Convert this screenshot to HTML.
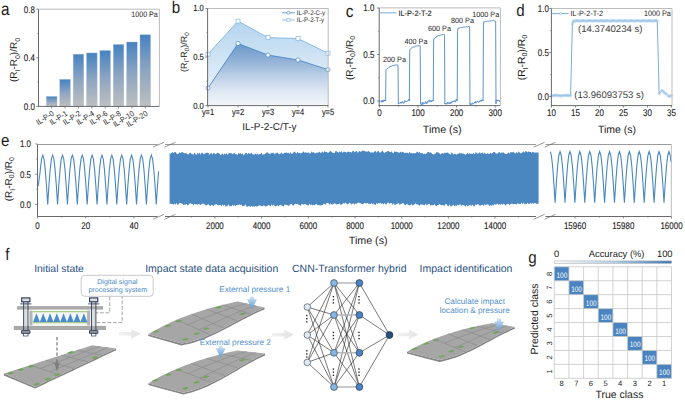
<!DOCTYPE html>
<html><head><meta charset="utf-8"><style>
html,body{margin:0;padding:0;background:#fff;}
body{width:685px;height:400px;overflow:hidden;}
svg{display:block;}
text{font-family:"Liberation Sans",sans-serif;text-rendering:geometricPrecision;}
</style></head><body>
<svg width="685" height="400" viewBox="0 0 685 400">
<rect width="685" height="400" fill="#fff"/>
<defs><linearGradient id="ga" x1="0" y1="0" x2="0" y2="1"><stop offset="0" stop-color="#4682c2"/><stop offset="0.5" stop-color="#8ea5c1"/><stop offset="1" stop-color="#bfbfc0"/></linearGradient></defs>
<rect x="46.4" y="96.44" width="10.6" height="9.96" fill="url(#ga)" stroke="#a6c0dc" stroke-width="0.4"/>
<line x1="51.7" y1="106.4" x2="51.7" y2="108.4" stroke="#6a6a6a" stroke-width="0.8" />
<text transform="translate(54.7,115) rotate(-32) scale(0.9,1)" font-size="7.9" text-anchor="end" fill="#1c1c1c">IL-P-0</text>
<rect x="59.77" y="79.31" width="10.6" height="27.09" fill="url(#ga)" stroke="#a6c0dc" stroke-width="0.4"/>
<line x1="65.07" y1="106.4" x2="65.07" y2="108.4" stroke="#6a6a6a" stroke-width="0.8" />
<text transform="translate(68.07,115) rotate(-32) scale(0.9,1)" font-size="7.9" text-anchor="end" fill="#1c1c1c">IL-P-1</text>
<rect x="73.14" y="54.16" width="10.6" height="52.24" fill="url(#ga)" stroke="#a6c0dc" stroke-width="0.4"/>
<line x1="78.44" y1="106.4" x2="78.44" y2="108.4" stroke="#6a6a6a" stroke-width="0.8" />
<text transform="translate(81.44,115) rotate(-32) scale(0.9,1)" font-size="7.9" text-anchor="end" fill="#1c1c1c">IL-P-2</text>
<rect x="86.51" y="52.94" width="10.6" height="53.46" fill="url(#ga)" stroke="#a6c0dc" stroke-width="0.4"/>
<line x1="91.81" y1="106.4" x2="91.81" y2="108.4" stroke="#6a6a6a" stroke-width="0.8" />
<text transform="translate(94.81,115) rotate(-32) scale(0.9,1)" font-size="7.9" text-anchor="end" fill="#1c1c1c">IL-P-4</text>
<rect x="99.88" y="50.51" width="10.6" height="55.89" fill="url(#ga)" stroke="#a6c0dc" stroke-width="0.4"/>
<line x1="105.18" y1="106.4" x2="105.18" y2="108.4" stroke="#6a6a6a" stroke-width="0.8" />
<text transform="translate(108.18,115) rotate(-32) scale(0.9,1)" font-size="7.9" text-anchor="end" fill="#1c1c1c">IL-P-6</text>
<rect x="113.25" y="44.44" width="10.6" height="61.97" fill="url(#ga)" stroke="#a6c0dc" stroke-width="0.4"/>
<line x1="118.55" y1="106.4" x2="118.55" y2="108.4" stroke="#6a6a6a" stroke-width="0.8" />
<text transform="translate(121.55,115) rotate(-32) scale(0.9,1)" font-size="7.9" text-anchor="end" fill="#1c1c1c">IL-P-8</text>
<rect x="126.62" y="42.01" width="10.6" height="64.39" fill="url(#ga)" stroke="#a6c0dc" stroke-width="0.4"/>
<line x1="131.92" y1="106.4" x2="131.92" y2="108.4" stroke="#6a6a6a" stroke-width="0.8" />
<text transform="translate(134.92,115) rotate(-32) scale(0.9,1)" font-size="7.9" text-anchor="end" fill="#1c1c1c">IL-P-10</text>
<rect x="139.99" y="34.72" width="10.6" height="71.68" fill="url(#ga)" stroke="#a6c0dc" stroke-width="0.4"/>
<line x1="145.29" y1="106.4" x2="145.29" y2="108.4" stroke="#6a6a6a" stroke-width="0.8" />
<text transform="translate(148.29,115) rotate(-32) scale(0.9,1)" font-size="7.9" text-anchor="end" fill="#1c1c1c">IL-P-20</text>
<line x1="38.5" y1="9.2" x2="159.4" y2="9.2" stroke="#bcbcbc" stroke-width="1" />
<line x1="159.4" y1="9.2" x2="159.4" y2="106.4" stroke="#bcbcbc" stroke-width="1" />
<line x1="38.5" y1="9.2" x2="38.5" y2="106.9" stroke="#6a6a6a" stroke-width="1" />
<line x1="38" y1="106.4" x2="159.4" y2="106.4" stroke="#6a6a6a" stroke-width="1" />
<line x1="36.3" y1="106.4" x2="38.5" y2="106.4" stroke="#6a6a6a" stroke-width="0.8" />
<text transform="translate(34.9,109.8) scale(0.82,1)" font-size="9.7" text-anchor="end" fill="#1c1c1c" stroke="#1c1c1c" stroke-width="0.12">0.0</text>
<line x1="36.3" y1="57.8" x2="38.5" y2="57.8" stroke="#6a6a6a" stroke-width="0.8" />
<text transform="translate(34.9,61.2) scale(0.82,1)" font-size="9.7" text-anchor="end" fill="#1c1c1c" stroke="#1c1c1c" stroke-width="0.12">0.4</text>
<line x1="36.3" y1="9.2" x2="38.5" y2="9.2" stroke="#6a6a6a" stroke-width="0.8" />
<text transform="translate(34.9,12.6) scale(0.82,1)" font-size="9.7" text-anchor="end" fill="#1c1c1c" stroke="#1c1c1c" stroke-width="0.12">0.8</text>
<line x1="37.2" y1="82.1" x2="38.5" y2="82.1" stroke="#6a6a6a" stroke-width="0.6" />
<line x1="37.2" y1="33.5" x2="38.5" y2="33.5" stroke="#6a6a6a" stroke-width="0.6" />
<text transform="translate(157.8,16.8) scale(0.9,1)" font-size="7.9" text-anchor="end" fill="#1c1c1c" >1000 Pa</text>
<text transform="translate(17.3,60) rotate(-90) scale(1.0,1)" font-size="10" text-anchor="middle" fill="#1c1c1c">(R<tspan font-size="7" dy="3">I</tspan><tspan dy="-3">-R</tspan><tspan font-size="7" dy="2.2">0</tspan><tspan dy="-2.2">)/R</tspan><tspan font-size="7" dy="2.2">0</tspan></text>
<text transform="translate(0.9,15) scale(0.87,1)" font-size="17.6" text-anchor="start" fill="#1c1c1c" >a</text>
<defs><linearGradient id="gbT" x1="0" y1="0" x2="0" y2="1"><stop offset="0" stop-color="#b4d4ee"/><stop offset="1" stop-color="#f4f8fc"/></linearGradient><linearGradient id="gbC" gradientUnits="userSpaceOnUse" x1="0" y1="43" x2="0" y2="105.6"><stop offset="0" stop-color="#6797ca"/><stop offset="0.27" stop-color="#8fb0d6"/><stop offset="0.5" stop-color="#b7cce5"/><stop offset="0.75" stop-color="#dce6f2"/><stop offset="1" stop-color="#f3f6fa"/></linearGradient></defs>
<polygon points="207.6,105.6 208,54.14 238,21.12 268,37.63 298,38.6 328,53.17 328.2,105.6" fill="url(#gbT)"/>
<polygon points="207.6,105.6 208,88.12 238,43.46 268,55.11 298,59.96 328,69.67 328.2,105.6" fill="url(#gbC)"/>
<polyline points="208,54.14 238,21.12 268,37.63 298,38.6 328,53.17" fill="none" stroke="#7fb6e2" stroke-width="0.9"/>
<polyline points="208,88.12 238,43.46 268,55.11 298,59.96 328,69.67" fill="none" stroke="#4a88c8" stroke-width="0.9"/>
<rect x="206" y="52.14" width="4" height="4" fill="#fff" stroke="#7fb6e2" stroke-width="0.7"/>
<circle cx="208" cy="88.12" r="2.1" fill="#fff" stroke="#4a88c8" stroke-width="0.7"/>
<rect x="236" y="19.12" width="4" height="4" fill="#fff" stroke="#7fb6e2" stroke-width="0.7"/>
<circle cx="238" cy="43.46" r="2.1" fill="#fff" stroke="#4a88c8" stroke-width="0.7"/>
<rect x="266" y="35.63" width="4" height="4" fill="#fff" stroke="#7fb6e2" stroke-width="0.7"/>
<circle cx="268" cy="55.11" r="2.1" fill="#fff" stroke="#4a88c8" stroke-width="0.7"/>
<rect x="296" y="36.6" width="4" height="4" fill="#fff" stroke="#7fb6e2" stroke-width="0.7"/>
<circle cx="298" cy="59.96" r="2.1" fill="#fff" stroke="#4a88c8" stroke-width="0.7"/>
<rect x="326" y="51.17" width="4" height="4" fill="#fff" stroke="#7fb6e2" stroke-width="0.7"/>
<circle cx="328" cy="69.67" r="2.1" fill="#fff" stroke="#4a88c8" stroke-width="0.7"/>
<line x1="207.6" y1="8.5" x2="328.2" y2="8.5" stroke="#bcbcbc" stroke-width="1" />
<line x1="328.2" y1="8.5" x2="328.2" y2="105.6" stroke="#bcbcbc" stroke-width="1" />
<line x1="207.6" y1="8.5" x2="207.6" y2="106.1" stroke="#6a6a6a" stroke-width="1" />
<line x1="207.1" y1="105.6" x2="328.2" y2="105.6" stroke="#6a6a6a" stroke-width="1" />
<line x1="205.4" y1="105.6" x2="207.6" y2="105.6" stroke="#6a6a6a" stroke-width="0.8" />
<text transform="translate(203.8,108.5) scale(0.85,1)" font-size="9.0" text-anchor="end" fill="#1c1c1c" stroke="#1c1c1c" stroke-width="0.12">0.0</text>
<line x1="205.4" y1="57.05" x2="207.6" y2="57.05" stroke="#6a6a6a" stroke-width="0.8" />
<text transform="translate(203.8,59.95) scale(0.85,1)" font-size="9.0" text-anchor="end" fill="#1c1c1c" stroke="#1c1c1c" stroke-width="0.12">0.5</text>
<line x1="205.4" y1="8.5" x2="207.6" y2="8.5" stroke="#6a6a6a" stroke-width="0.8" />
<text transform="translate(203.8,11.4) scale(0.85,1)" font-size="9.0" text-anchor="end" fill="#1c1c1c" stroke="#1c1c1c" stroke-width="0.12">1.0</text>
<line x1="206.3" y1="81.32" x2="207.6" y2="81.32" stroke="#6a6a6a" stroke-width="0.6" />
<line x1="206.3" y1="32.78" x2="207.6" y2="32.78" stroke="#6a6a6a" stroke-width="0.6" />
<line x1="208" y1="105.6" x2="208" y2="107.6" stroke="#6a6a6a" stroke-width="0.8" />
<text transform="translate(208,115.4) scale(0.83,1)" font-size="9.0" text-anchor="middle" fill="#1c1c1c" stroke="#1c1c1c" stroke-width="0.12">y=1</text>
<line x1="238" y1="105.6" x2="238" y2="107.6" stroke="#6a6a6a" stroke-width="0.8" />
<text transform="translate(238,115.4) scale(0.83,1)" font-size="9.0" text-anchor="middle" fill="#1c1c1c" stroke="#1c1c1c" stroke-width="0.12">y=2</text>
<line x1="268" y1="105.6" x2="268" y2="107.6" stroke="#6a6a6a" stroke-width="0.8" />
<text transform="translate(268,115.4) scale(0.83,1)" font-size="9.0" text-anchor="middle" fill="#1c1c1c" stroke="#1c1c1c" stroke-width="0.12">y=3</text>
<line x1="298" y1="105.6" x2="298" y2="107.6" stroke="#6a6a6a" stroke-width="0.8" />
<text transform="translate(298,115.4) scale(0.83,1)" font-size="9.0" text-anchor="middle" fill="#1c1c1c" stroke="#1c1c1c" stroke-width="0.12">y=4</text>
<line x1="328" y1="105.6" x2="328" y2="107.6" stroke="#6a6a6a" stroke-width="0.8" />
<text transform="translate(328,115.4) scale(0.83,1)" font-size="9.0" text-anchor="middle" fill="#1c1c1c" stroke="#1c1c1c" stroke-width="0.12">y=5</text>
<text x="269.4" y="130" font-size="10" text-anchor="middle" fill="#1c1c1c" >IL-P-2-C/T-y</text>
<line x1="282" y1="12.8" x2="295" y2="12.8" stroke="#4a88c8" stroke-width="0.8" />
<circle cx="288.5" cy="12.8" r="1.6" fill="#fff" stroke="#4a88c8" stroke-width="0.6"/>
<text transform="translate(296.8,14.9) scale(0.92,1)" font-size="6.7" text-anchor="start" fill="#1c1c1c" >IL-P-2-C-y</text>
<line x1="282" y1="20" x2="295" y2="20" stroke="#7fb6e2" stroke-width="0.8" />
<rect x="287" y="18.5" width="3" height="3" fill="#fff" stroke="#7fb6e2" stroke-width="0.6"/>
<text transform="translate(296.8,22.1) scale(0.92,1)" font-size="6.7" text-anchor="start" fill="#1c1c1c" >IL-P-2-T-y</text>
<text transform="translate(186.6,52) rotate(-90) scale(1.0,1)" font-size="9" text-anchor="middle" fill="#1c1c1c">(R<tspan font-size="6.3" dy="2.7">I</tspan><tspan dy="-2.7">-R</tspan><tspan font-size="6.3" dy="1.98">0</tspan><tspan dy="-1.98">)/R</tspan><tspan font-size="6.3" dy="1.98">0</tspan></text>
<text transform="translate(171.8,12.9) scale(0.9,1)" font-size="16.8" text-anchor="start" fill="#1c1c1c" >b</text>
<polyline points="379.4,101.68 379.86,100.88 380.33,101.34 380.79,100.73 381.25,100.67 381.72,102.13 382.18,102.27 382.64,100.12 383.11,101.63 383.57,101.69 384.03,99.71 384.5,101.08 384.96,100.12 385.61,101 385.96,70.64 386.31,69.38 386.31,69.4 387.26,68.45 388.21,68.12 389.17,67.16 390.12,66.49 391.07,66.32 392.02,65.8 392.97,65.55 393.93,65.74 394.88,65.01 395.83,64.95 396.78,65.01 397.73,65.08 398.01,65.27 398.35,103.79 398.35,103.3 398.82,104.15 399.28,103.34 399.74,102.75 400.21,103 400.67,102.29 401.13,103.49 401.59,102.26 402.06,103.01 402.52,101.56 402.98,101.53 403.45,103.39 403.91,103.12 404.37,102.73 404.84,100.61 405.3,101.81 405.76,101.14 406.23,101.82 406.69,101.11 407.15,101.25 407.62,101.17 408.08,100.38 408.54,100.21 409.01,99.21 409.35,101 409.7,51.45 410.05,49.38 410.05,49.25 410.87,48.41 411.7,47.9 412.52,47.33 413.34,47.16 414.17,47.2 414.99,46.4 415.81,46.08 416.64,45.92 417.46,45.99 418.28,45.74 419.11,45.99 419.93,45.42 420.2,46.5 420.55,103.79 420.55,104.06 421.01,104.66 421.47,105.09 421.94,102.88 422.4,102.38 422.86,104.57 423.33,102.57 423.79,103.44 424.25,103.96 424.72,103.44 425.18,102.05 425.64,101.63 426.11,103.64 426.57,102 427.03,103.33 427.5,101.43 427.96,102.29 428.42,100.71 428.89,100.3 429.35,101.38 429.81,99.95 430.27,101.59 430.74,102.05 431.2,100.54 431.66,101.87 432.13,101.28 432.59,100.59 433.05,99.91 433.29,101 433.63,41.18 433.98,38.69 433.98,38.95 434.84,38.29 435.69,37.04 436.55,36.92 437.4,35.99 438.26,35.66 439.11,35.72 439.97,35.39 440.83,35.11 441.68,34.82 442.54,34.69 443.39,34.58 444.25,34.42 444.52,35.5 444.87,103.79 444.87,103.11 445.33,104.08 445.79,104.12 446.26,103.22 446.72,104.32 447.18,104 447.64,102.08 448.11,103.11 448.57,102.89 449.03,104.13 449.5,102.93 449.96,102.34 450.42,103.64 450.89,101.94 451.35,101.74 451.81,103.08 452.28,101.44 452.74,101.71 453.2,101 453.67,101.69 454.13,100.62 454.59,100.38 455.06,102.09 455.52,101.83 455.98,100.08 456.45,99.17 456.91,100.87 457.22,101 457.56,31.36 457.91,28.46 457.91,28.49 458.86,28.06 459.82,27.98 460.77,27.71 461.72,27.55 462.67,27.34 463.63,27.03 464.58,27.13 465.53,26.97 466.48,26.59 467.43,27.07 468.39,26.6 469.34,26.43 469.61,27.72 469.96,103.79 469.96,104.75 470.42,104.83 470.88,103.17 471.35,104.5 471.81,104.49 472.27,103.69 472.73,102.86 473.2,104.27 473.66,103.55 474.12,103.37 474.59,101.93 475.05,102.81 475.51,101.58 475.98,103.22 476.44,102.64 476.9,101.67 477.37,100.92 477.83,101.9 478.29,102.34 478.76,102.47 479.22,101.26 479.68,101.99 480.15,100.24 480.61,100.02 481.07,101.58 481.54,101.18 482,99.66 482.46,99.94 483.08,101 483.43,25.11 483.77,21.95 483.77,21.72 484.74,21.82 485.71,21.77 486.68,21.47 487.65,20.95 488.62,21.21 489.58,21.04 490.55,20.9 491.52,20.82 492.49,20.76 493.46,20.33 494.42,20.85 495.39,20.92 495.66,21.76 496.01,103.79 496.01,100.01 496.59,100.15 497.17,99.91 497.75,101.15 498.33,100 498.91,100.05 499.48,101.62 500.06,100.45" fill="none" stroke="#4a88c8" stroke-width="0.9" stroke-linejoin="round"/>
<line x1="379.2" y1="7.9" x2="500.4" y2="7.9" stroke="#bcbcbc" stroke-width="1" />
<line x1="500.4" y1="7.9" x2="500.4" y2="105.6" stroke="#bcbcbc" stroke-width="1" />
<line x1="379.2" y1="7.9" x2="379.2" y2="106.1" stroke="#6a6a6a" stroke-width="1" />
<line x1="378.7" y1="105.6" x2="500.4" y2="105.6" stroke="#6a6a6a" stroke-width="1" />
<line x1="377" y1="101" x2="379.2" y2="101" stroke="#6a6a6a" stroke-width="0.8" />
<text transform="translate(374.4,104.4) scale(0.82,1)" font-size="9.7" text-anchor="end" fill="#1c1c1c" stroke="#1c1c1c" stroke-width="0.12">0.0</text>
<line x1="377" y1="54.5" x2="379.2" y2="54.5" stroke="#6a6a6a" stroke-width="0.8" />
<text transform="translate(374.4,57.9) scale(0.82,1)" font-size="9.7" text-anchor="end" fill="#1c1c1c" stroke="#1c1c1c" stroke-width="0.12">0.5</text>
<line x1="377" y1="8" x2="379.2" y2="8" stroke="#6a6a6a" stroke-width="0.8" />
<text transform="translate(374.4,11.4) scale(0.82,1)" font-size="9.7" text-anchor="end" fill="#1c1c1c" stroke="#1c1c1c" stroke-width="0.12">1.0</text>
<line x1="377.9" y1="77.75" x2="379.2" y2="77.75" stroke="#6a6a6a" stroke-width="0.6" />
<line x1="377.9" y1="31.25" x2="379.2" y2="31.25" stroke="#6a6a6a" stroke-width="0.6" />
<line x1="379.4" y1="105.6" x2="379.4" y2="107.6" stroke="#6a6a6a" stroke-width="0.8" />
<text transform="translate(379.4,115.6) scale(0.82,1)" font-size="9.7" text-anchor="middle" fill="#1c1c1c" stroke="#1c1c1c" stroke-width="0.12">0</text>
<line x1="418" y1="105.6" x2="418" y2="107.6" stroke="#6a6a6a" stroke-width="0.8" />
<text transform="translate(418,115.6) scale(0.82,1)" font-size="9.7" text-anchor="middle" fill="#1c1c1c" stroke="#1c1c1c" stroke-width="0.12">100</text>
<line x1="456.6" y1="105.6" x2="456.6" y2="107.6" stroke="#6a6a6a" stroke-width="0.8" />
<text transform="translate(456.6,115.6) scale(0.82,1)" font-size="9.7" text-anchor="middle" fill="#1c1c1c" stroke="#1c1c1c" stroke-width="0.12">200</text>
<line x1="495.2" y1="105.6" x2="495.2" y2="107.6" stroke="#6a6a6a" stroke-width="0.8" />
<text transform="translate(495.2,115.6) scale(0.82,1)" font-size="9.7" text-anchor="middle" fill="#1c1c1c" stroke="#1c1c1c" stroke-width="0.12">300</text>
<line x1="398.7" y1="105.6" x2="398.7" y2="106.8" stroke="#6a6a6a" stroke-width="0.6" />
<line x1="437.3" y1="105.6" x2="437.3" y2="106.8" stroke="#6a6a6a" stroke-width="0.6" />
<line x1="475.9" y1="105.6" x2="475.9" y2="106.8" stroke="#6a6a6a" stroke-width="0.6" />
<text x="442.2" y="132.5" font-size="10.7" text-anchor="middle" fill="#1c1c1c" >Time (s)</text>
<line x1="380" y1="12.8" x2="396.4" y2="12.8" stroke="#8fbbe3" stroke-width="1.3" />
<text transform="translate(398.4,15.7) scale(0.95,1)" font-size="7.8" text-anchor="start" fill="#1c1c1c" stroke="#1c1c1c" stroke-width="0.12">IL-P-2-T-2</text>
<text transform="translate(394.5,61.9) scale(0.95,1)" font-size="7.6" text-anchor="middle" fill="#1c1c1c" >200 Pa</text>
<text transform="translate(416,43.9) scale(0.95,1)" font-size="7.6" text-anchor="middle" fill="#1c1c1c" >400 Pa</text>
<text transform="translate(439.5,30.9) scale(0.95,1)" font-size="7.6" text-anchor="middle" fill="#1c1c1c" >600 Pa</text>
<text transform="translate(462.5,22.9) scale(0.95,1)" font-size="7.6" text-anchor="middle" fill="#1c1c1c" >800 Pa</text>
<text transform="translate(485.7,16.9) scale(0.95,1)" font-size="7.6" text-anchor="middle" fill="#1c1c1c" >1000 Pa</text>
<text transform="translate(352.8,58) rotate(-90) scale(1.0,1)" font-size="10" text-anchor="middle" fill="#1c1c1c">(R<tspan font-size="7" dy="3">I</tspan><tspan dy="-3">-R</tspan><tspan font-size="7" dy="2.2">0</tspan><tspan dy="-2.2">)/R</tspan><tspan font-size="7" dy="2.2">0</tspan></text>
<text transform="translate(345.8,17) scale(0.9,1)" font-size="17.2" text-anchor="start" fill="#1c1c1c" >c</text>
<polyline points="551.4,95.8 552.6,95.71 553.8,95.52 555,95.35 556.2,95.28 557.4,95.35 558.6,95.53 559.8,95.71 561,95.8 562.2,95.76 563.4,95.6 564.6,95.4 565.8,95.29 567,95.31 568.2,95.45 569.4,95.65 570.6,95.72 572.38,23.48 573.48,20.95 574.68,20.99 575.88,20.82 577.08,20.66 578.28,20.74 579.48,20.95 580.68,21 581.88,20.82 583.08,20.66 584.28,20.74 585.48,20.94 586.68,21 587.88,20.83 589.08,20.66 590.28,20.73 591.48,20.94 592.68,21 593.88,20.83 595.08,20.67 596.28,20.73 597.48,20.94 598.68,21 599.88,20.84 601.08,20.67 602.28,20.72 603.48,20.93 604.68,21 605.88,20.85 607.08,20.67 608.28,20.72 609.48,20.93 610.68,21.01 611.88,20.85 613.08,20.67 614.28,20.72 615.48,20.92 616.68,21.01 617.88,20.86 619.08,20.68 620.28,20.71 621.48,20.92 622.68,21.01 623.88,20.86 625.08,20.68 626.28,20.71 627.48,20.91 628.68,21.01 629.88,20.87 631.08,20.68 632.28,20.7 633.48,20.9 634.68,21.01 635.88,20.87 637.08,20.68 638.28,20.7 639.48,20.9 640.68,21.01 641.88,20.88 643.08,20.69 644.28,20.7 645.48,20.89 646.68,21.01 647.88,20.89 649.08,20.69 650.28,20.69 651.48,20.89 652.68,21.01 653.88,20.89 655.08,20.69 656.28,20.69 657.24,20.83 659.16,93.96 661.8,90.43 663.24,91.31 664.68,93.08 666.12,93.52 667.56,95.28 669,96.6 670.44,95.72 671.4,95.72" fill="none" stroke="#6aa4d6" stroke-width="0.9"/>
<circle cx="551.4" cy="95.8" r="1.25" fill="none" stroke="#a4c8e8" stroke-width="0.55"/>
<circle cx="552.6" cy="95.71" r="1.25" fill="none" stroke="#a4c8e8" stroke-width="0.55"/>
<circle cx="553.8" cy="95.52" r="1.25" fill="none" stroke="#a4c8e8" stroke-width="0.55"/>
<circle cx="555" cy="95.35" r="1.25" fill="none" stroke="#a4c8e8" stroke-width="0.55"/>
<circle cx="556.2" cy="95.28" r="1.25" fill="none" stroke="#a4c8e8" stroke-width="0.55"/>
<circle cx="557.4" cy="95.35" r="1.25" fill="none" stroke="#a4c8e8" stroke-width="0.55"/>
<circle cx="558.6" cy="95.53" r="1.25" fill="none" stroke="#a4c8e8" stroke-width="0.55"/>
<circle cx="559.8" cy="95.71" r="1.25" fill="none" stroke="#a4c8e8" stroke-width="0.55"/>
<circle cx="561" cy="95.8" r="1.25" fill="none" stroke="#a4c8e8" stroke-width="0.55"/>
<circle cx="562.2" cy="95.76" r="1.25" fill="none" stroke="#a4c8e8" stroke-width="0.55"/>
<circle cx="563.4" cy="95.6" r="1.25" fill="none" stroke="#a4c8e8" stroke-width="0.55"/>
<circle cx="564.6" cy="95.4" r="1.25" fill="none" stroke="#a4c8e8" stroke-width="0.55"/>
<circle cx="565.8" cy="95.29" r="1.25" fill="none" stroke="#a4c8e8" stroke-width="0.55"/>
<circle cx="567" cy="95.31" r="1.25" fill="none" stroke="#a4c8e8" stroke-width="0.55"/>
<circle cx="568.2" cy="95.45" r="1.25" fill="none" stroke="#a4c8e8" stroke-width="0.55"/>
<circle cx="569.4" cy="95.65" r="1.25" fill="none" stroke="#a4c8e8" stroke-width="0.55"/>
<circle cx="570.6" cy="95.72" r="1.25" fill="none" stroke="#a4c8e8" stroke-width="0.55"/>
<circle cx="572.38" cy="23.48" r="1.25" fill="none" stroke="#a4c8e8" stroke-width="0.55"/>
<circle cx="573.48" cy="20.95" r="1.25" fill="none" stroke="#a4c8e8" stroke-width="0.55"/>
<circle cx="574.68" cy="20.99" r="1.25" fill="none" stroke="#a4c8e8" stroke-width="0.55"/>
<circle cx="575.88" cy="20.82" r="1.25" fill="none" stroke="#a4c8e8" stroke-width="0.55"/>
<circle cx="577.08" cy="20.66" r="1.25" fill="none" stroke="#a4c8e8" stroke-width="0.55"/>
<circle cx="578.28" cy="20.74" r="1.25" fill="none" stroke="#a4c8e8" stroke-width="0.55"/>
<circle cx="579.48" cy="20.95" r="1.25" fill="none" stroke="#a4c8e8" stroke-width="0.55"/>
<circle cx="580.68" cy="21" r="1.25" fill="none" stroke="#a4c8e8" stroke-width="0.55"/>
<circle cx="581.88" cy="20.82" r="1.25" fill="none" stroke="#a4c8e8" stroke-width="0.55"/>
<circle cx="583.08" cy="20.66" r="1.25" fill="none" stroke="#a4c8e8" stroke-width="0.55"/>
<circle cx="584.28" cy="20.74" r="1.25" fill="none" stroke="#a4c8e8" stroke-width="0.55"/>
<circle cx="585.48" cy="20.94" r="1.25" fill="none" stroke="#a4c8e8" stroke-width="0.55"/>
<circle cx="586.68" cy="21" r="1.25" fill="none" stroke="#a4c8e8" stroke-width="0.55"/>
<circle cx="587.88" cy="20.83" r="1.25" fill="none" stroke="#a4c8e8" stroke-width="0.55"/>
<circle cx="589.08" cy="20.66" r="1.25" fill="none" stroke="#a4c8e8" stroke-width="0.55"/>
<circle cx="590.28" cy="20.73" r="1.25" fill="none" stroke="#a4c8e8" stroke-width="0.55"/>
<circle cx="591.48" cy="20.94" r="1.25" fill="none" stroke="#a4c8e8" stroke-width="0.55"/>
<circle cx="592.68" cy="21" r="1.25" fill="none" stroke="#a4c8e8" stroke-width="0.55"/>
<circle cx="593.88" cy="20.83" r="1.25" fill="none" stroke="#a4c8e8" stroke-width="0.55"/>
<circle cx="595.08" cy="20.67" r="1.25" fill="none" stroke="#a4c8e8" stroke-width="0.55"/>
<circle cx="596.28" cy="20.73" r="1.25" fill="none" stroke="#a4c8e8" stroke-width="0.55"/>
<circle cx="597.48" cy="20.94" r="1.25" fill="none" stroke="#a4c8e8" stroke-width="0.55"/>
<circle cx="598.68" cy="21" r="1.25" fill="none" stroke="#a4c8e8" stroke-width="0.55"/>
<circle cx="599.88" cy="20.84" r="1.25" fill="none" stroke="#a4c8e8" stroke-width="0.55"/>
<circle cx="601.08" cy="20.67" r="1.25" fill="none" stroke="#a4c8e8" stroke-width="0.55"/>
<circle cx="602.28" cy="20.72" r="1.25" fill="none" stroke="#a4c8e8" stroke-width="0.55"/>
<circle cx="603.48" cy="20.93" r="1.25" fill="none" stroke="#a4c8e8" stroke-width="0.55"/>
<circle cx="604.68" cy="21" r="1.25" fill="none" stroke="#a4c8e8" stroke-width="0.55"/>
<circle cx="605.88" cy="20.85" r="1.25" fill="none" stroke="#a4c8e8" stroke-width="0.55"/>
<circle cx="607.08" cy="20.67" r="1.25" fill="none" stroke="#a4c8e8" stroke-width="0.55"/>
<circle cx="608.28" cy="20.72" r="1.25" fill="none" stroke="#a4c8e8" stroke-width="0.55"/>
<circle cx="609.48" cy="20.93" r="1.25" fill="none" stroke="#a4c8e8" stroke-width="0.55"/>
<circle cx="610.68" cy="21.01" r="1.25" fill="none" stroke="#a4c8e8" stroke-width="0.55"/>
<circle cx="611.88" cy="20.85" r="1.25" fill="none" stroke="#a4c8e8" stroke-width="0.55"/>
<circle cx="613.08" cy="20.67" r="1.25" fill="none" stroke="#a4c8e8" stroke-width="0.55"/>
<circle cx="614.28" cy="20.72" r="1.25" fill="none" stroke="#a4c8e8" stroke-width="0.55"/>
<circle cx="615.48" cy="20.92" r="1.25" fill="none" stroke="#a4c8e8" stroke-width="0.55"/>
<circle cx="616.68" cy="21.01" r="1.25" fill="none" stroke="#a4c8e8" stroke-width="0.55"/>
<circle cx="617.88" cy="20.86" r="1.25" fill="none" stroke="#a4c8e8" stroke-width="0.55"/>
<circle cx="619.08" cy="20.68" r="1.25" fill="none" stroke="#a4c8e8" stroke-width="0.55"/>
<circle cx="620.28" cy="20.71" r="1.25" fill="none" stroke="#a4c8e8" stroke-width="0.55"/>
<circle cx="621.48" cy="20.92" r="1.25" fill="none" stroke="#a4c8e8" stroke-width="0.55"/>
<circle cx="622.68" cy="21.01" r="1.25" fill="none" stroke="#a4c8e8" stroke-width="0.55"/>
<circle cx="623.88" cy="20.86" r="1.25" fill="none" stroke="#a4c8e8" stroke-width="0.55"/>
<circle cx="625.08" cy="20.68" r="1.25" fill="none" stroke="#a4c8e8" stroke-width="0.55"/>
<circle cx="626.28" cy="20.71" r="1.25" fill="none" stroke="#a4c8e8" stroke-width="0.55"/>
<circle cx="627.48" cy="20.91" r="1.25" fill="none" stroke="#a4c8e8" stroke-width="0.55"/>
<circle cx="628.68" cy="21.01" r="1.25" fill="none" stroke="#a4c8e8" stroke-width="0.55"/>
<circle cx="629.88" cy="20.87" r="1.25" fill="none" stroke="#a4c8e8" stroke-width="0.55"/>
<circle cx="631.08" cy="20.68" r="1.25" fill="none" stroke="#a4c8e8" stroke-width="0.55"/>
<circle cx="632.28" cy="20.7" r="1.25" fill="none" stroke="#a4c8e8" stroke-width="0.55"/>
<circle cx="633.48" cy="20.9" r="1.25" fill="none" stroke="#a4c8e8" stroke-width="0.55"/>
<circle cx="634.68" cy="21.01" r="1.25" fill="none" stroke="#a4c8e8" stroke-width="0.55"/>
<circle cx="635.88" cy="20.87" r="1.25" fill="none" stroke="#a4c8e8" stroke-width="0.55"/>
<circle cx="637.08" cy="20.68" r="1.25" fill="none" stroke="#a4c8e8" stroke-width="0.55"/>
<circle cx="638.28" cy="20.7" r="1.25" fill="none" stroke="#a4c8e8" stroke-width="0.55"/>
<circle cx="639.48" cy="20.9" r="1.25" fill="none" stroke="#a4c8e8" stroke-width="0.55"/>
<circle cx="640.68" cy="21.01" r="1.25" fill="none" stroke="#a4c8e8" stroke-width="0.55"/>
<circle cx="641.88" cy="20.88" r="1.25" fill="none" stroke="#a4c8e8" stroke-width="0.55"/>
<circle cx="643.08" cy="20.69" r="1.25" fill="none" stroke="#a4c8e8" stroke-width="0.55"/>
<circle cx="644.28" cy="20.7" r="1.25" fill="none" stroke="#a4c8e8" stroke-width="0.55"/>
<circle cx="645.48" cy="20.89" r="1.25" fill="none" stroke="#a4c8e8" stroke-width="0.55"/>
<circle cx="646.68" cy="21.01" r="1.25" fill="none" stroke="#a4c8e8" stroke-width="0.55"/>
<circle cx="647.88" cy="20.89" r="1.25" fill="none" stroke="#a4c8e8" stroke-width="0.55"/>
<circle cx="649.08" cy="20.69" r="1.25" fill="none" stroke="#a4c8e8" stroke-width="0.55"/>
<circle cx="650.28" cy="20.69" r="1.25" fill="none" stroke="#a4c8e8" stroke-width="0.55"/>
<circle cx="651.48" cy="20.89" r="1.25" fill="none" stroke="#a4c8e8" stroke-width="0.55"/>
<circle cx="652.68" cy="21.01" r="1.25" fill="none" stroke="#a4c8e8" stroke-width="0.55"/>
<circle cx="653.88" cy="20.89" r="1.25" fill="none" stroke="#a4c8e8" stroke-width="0.55"/>
<circle cx="655.08" cy="20.69" r="1.25" fill="none" stroke="#a4c8e8" stroke-width="0.55"/>
<circle cx="656.28" cy="20.69" r="1.25" fill="none" stroke="#a4c8e8" stroke-width="0.55"/>
<circle cx="657.24" cy="20.83" r="1.25" fill="none" stroke="#a4c8e8" stroke-width="0.55"/>
<circle cx="659.16" cy="93.96" r="1.25" fill="none" stroke="#a4c8e8" stroke-width="0.55"/>
<circle cx="661.8" cy="90.43" r="1.25" fill="none" stroke="#a4c8e8" stroke-width="0.55"/>
<circle cx="663.24" cy="91.31" r="1.25" fill="none" stroke="#a4c8e8" stroke-width="0.55"/>
<circle cx="664.68" cy="93.08" r="1.25" fill="none" stroke="#a4c8e8" stroke-width="0.55"/>
<circle cx="666.12" cy="93.52" r="1.25" fill="none" stroke="#a4c8e8" stroke-width="0.55"/>
<circle cx="667.56" cy="95.28" r="1.25" fill="none" stroke="#a4c8e8" stroke-width="0.55"/>
<circle cx="669" cy="96.6" r="1.25" fill="none" stroke="#a4c8e8" stroke-width="0.55"/>
<circle cx="670.44" cy="95.72" r="1.25" fill="none" stroke="#a4c8e8" stroke-width="0.55"/>
<circle cx="671.4" cy="95.72" r="1.25" fill="none" stroke="#a4c8e8" stroke-width="0.55"/>
<line x1="551.4" y1="8.5" x2="672" y2="8.5" stroke="#bcbcbc" stroke-width="1" />
<line x1="672" y1="8.5" x2="672" y2="105.6" stroke="#bcbcbc" stroke-width="1" />
<line x1="551.4" y1="8.5" x2="551.4" y2="106.1" stroke="#6a6a6a" stroke-width="1" />
<line x1="550.9" y1="105.6" x2="672" y2="105.6" stroke="#6a6a6a" stroke-width="1" />
<line x1="549.2" y1="96.6" x2="551.4" y2="96.6" stroke="#6a6a6a" stroke-width="0.8" />
<text transform="translate(548.8,100) scale(0.82,1)" font-size="9.7" text-anchor="end" fill="#1c1c1c" stroke="#1c1c1c" stroke-width="0.12">0.0</text>
<line x1="549.2" y1="52.55" x2="551.4" y2="52.55" stroke="#6a6a6a" stroke-width="0.8" />
<text transform="translate(548.8,55.95) scale(0.82,1)" font-size="9.7" text-anchor="end" fill="#1c1c1c" stroke="#1c1c1c" stroke-width="0.12">0.5</text>
<line x1="549.2" y1="8.5" x2="551.4" y2="8.5" stroke="#6a6a6a" stroke-width="0.8" />
<text transform="translate(548.8,11.9) scale(0.82,1)" font-size="9.7" text-anchor="end" fill="#1c1c1c" stroke="#1c1c1c" stroke-width="0.12">1.0</text>
<line x1="550.1" y1="74.57" x2="551.4" y2="74.57" stroke="#6a6a6a" stroke-width="0.6" />
<line x1="550.1" y1="30.53" x2="551.4" y2="30.53" stroke="#6a6a6a" stroke-width="0.6" />
<line x1="551.4" y1="105.6" x2="551.4" y2="107.6" stroke="#6a6a6a" stroke-width="0.8" />
<text transform="translate(551.4,115.6) scale(0.82,1)" font-size="9.7" text-anchor="middle" fill="#1c1c1c" stroke="#1c1c1c" stroke-width="0.12">10</text>
<line x1="575.4" y1="105.6" x2="575.4" y2="107.6" stroke="#6a6a6a" stroke-width="0.8" />
<text transform="translate(575.4,115.6) scale(0.82,1)" font-size="9.7" text-anchor="middle" fill="#1c1c1c" stroke="#1c1c1c" stroke-width="0.12">15</text>
<line x1="599.4" y1="105.6" x2="599.4" y2="107.6" stroke="#6a6a6a" stroke-width="0.8" />
<text transform="translate(599.4,115.6) scale(0.82,1)" font-size="9.7" text-anchor="middle" fill="#1c1c1c" stroke="#1c1c1c" stroke-width="0.12">20</text>
<line x1="623.4" y1="105.6" x2="623.4" y2="107.6" stroke="#6a6a6a" stroke-width="0.8" />
<text transform="translate(623.4,115.6) scale(0.82,1)" font-size="9.7" text-anchor="middle" fill="#1c1c1c" stroke="#1c1c1c" stroke-width="0.12">25</text>
<line x1="647.4" y1="105.6" x2="647.4" y2="107.6" stroke="#6a6a6a" stroke-width="0.8" />
<text transform="translate(647.4,115.6) scale(0.82,1)" font-size="9.7" text-anchor="middle" fill="#1c1c1c" stroke="#1c1c1c" stroke-width="0.12">30</text>
<line x1="671.4" y1="105.6" x2="671.4" y2="107.6" stroke="#6a6a6a" stroke-width="0.8" />
<text transform="translate(671.4,115.6) scale(0.82,1)" font-size="9.7" text-anchor="middle" fill="#1c1c1c" stroke="#1c1c1c" stroke-width="0.12">35</text>
<text x="617" y="132.6" font-size="10.5" text-anchor="middle" fill="#1c1c1c" >Time (s)</text>
<line x1="552" y1="13.6" x2="568.6" y2="13.6" stroke="#6aa4d6" stroke-width="0.9" />
<circle cx="560.6" cy="13.6" r="1.2" fill="#fff" stroke="#6aa4d6" stroke-width="0.5"/>
<text transform="translate(570.6,16.3) scale(0.94,1)" font-size="7.7" text-anchor="start" fill="#1c1c1c" >IL-P-2-T-2</text>
<text transform="translate(670.8,16.4) scale(0.9,1)" font-size="8.0" text-anchor="end" fill="#1c1c1c" >1000 Pa</text>
<text x="578" y="32.1" font-size="9.6" text-anchor="start" fill="#3c3c3c" >(14.3740234 s)</text>
<text x="574.2" y="98.3" font-size="9.6" text-anchor="start" fill="#3c3c3c" >(13.96093753 s)</text>
<text transform="translate(525.2,57.5) rotate(-90) scale(1.0,1)" font-size="10.3" text-anchor="middle" fill="#1c1c1c">(R<tspan font-size="7.21" dy="3.09">I</tspan><tspan dy="-3.09">-R</tspan><tspan font-size="7.21" dy="2.27">0</tspan><tspan dy="-2.27">)/R</tspan><tspan font-size="7.21" dy="2.27">0</tspan></text>
<text transform="translate(516.3,15.9) scale(0.9,1)" font-size="16.8" text-anchor="start" fill="#1c1c1c" >d</text>
<polyline points="38.2,186 40,173.06 40.3,169.61 41.53,158.95 42.77,155.2 44,158.95 45.23,169.61 46.47,185.57 47.7,204.4 48.93,185.57 50.17,169.61 51.4,158.95 52.64,155.2 53.87,158.95 55.1,169.61 56.34,185.57 57.57,204.4 58.8,185.57 60.04,169.61 61.27,158.95 62.51,155.2 63.74,158.95 64.97,169.61 66.21,185.57 67.44,204.4 68.67,185.57 69.91,169.61 71.14,158.95 72.38,155.2 73.61,158.95 74.84,169.61 76.08,185.57 77.31,204.4 78.54,185.57 79.78,169.61 81.01,158.95 82.25,155.2 83.48,158.95 84.71,169.61 85.95,185.57 87.18,204.4 88.41,185.57 89.65,169.61 90.88,158.95 92.12,155.2 93.35,158.95 94.58,169.61 95.82,185.57 97.05,204.4 98.28,185.57 99.52,169.61 100.75,158.95 101.98,155.2 103.22,158.95 104.45,169.61 105.69,185.57 106.92,204.4 108.15,185.57 109.39,169.61 110.62,158.95 111.86,155.2 113.09,158.95 114.32,169.61 115.56,185.57 116.79,204.4 118.02,185.57 119.26,169.61 120.49,158.95 121.72,155.2 122.96,158.95 124.19,169.61 125.43,185.57 126.66,204.4 127.89,185.57 129.13,169.61 130.36,158.95 131.59,155.2 132.83,158.95 134.06,169.61 135.3,185.57 136.53,204.4 137.76,185.57 139,169.61 140.23,158.95 141.46,155.2 142.7,158.95 143.93,169.61 145.17,185.57 146.4,204.4 147.63,185.57 148.87,169.61 150.1,158.95 151.33,155.2 152.57,158.95 153.8,169.61 155.04,185.57 156.27,204.4 157.5,185.57 158.6,171.17" fill="none" stroke="#4a87c0" stroke-width="1.1"/>
<polygon points="169.6,152.66 170.6,153.92 171.6,152.87 172.6,152.06 173.6,153.25 174.6,151.88 175.6,151.9 176.6,153.5 177.6,154.28 178.6,153.46 179.6,152.19 180.6,153.19 181.6,152.34 182.6,151.95 183.6,153.05 184.6,153.28 185.6,153.26 186.6,153.17 187.6,154.61 188.6,154.22 189.6,152.88 190.6,152.84 191.6,154.11 192.6,154.34 193.6,154.66 194.6,152.19 195.6,154.58 196.6,154.79 197.6,152.45 198.6,154.31 199.6,152.54 200.6,154.84 201.6,152.66 202.6,152.64 203.6,154.47 204.6,153.87 205.6,152.93 206.6,152.79 207.6,152.77 208.6,153.04 209.6,155.03 210.6,153.31 211.6,153.08 212.6,154.77 213.6,152.82 214.6,153.13 215.6,154.6 216.6,153.37 217.6,152.85 218.6,153.26 219.6,153.6 220.6,155.14 221.6,154.15 222.6,153.14 223.6,155.03 224.6,153.32 225.6,154.6 226.6,153.2 227.6,154.98 228.6,153.79 229.6,152.8 230.6,153.32 231.6,153.37 232.6,154.25 233.6,153.16 234.6,152.88 235.6,154.15 236.6,154.29 237.6,155.08 238.6,152.73 239.6,153.84 240.6,153.14 241.6,154.16 242.6,153.61 243.6,155.21 244.6,154.45 245.6,153 246.6,152.68 247.6,154.44 248.6,152.66 249.6,153.85 250.6,153.41 251.6,152.77 252.6,154.47 253.6,154.46 254.6,154.59 255.6,153.43 256.6,154.84 257.6,153.56 258.6,154.7 259.6,154.07 260.6,153.94 261.6,152.61 262.6,154.97 263.6,154.26 264.6,154.25 265.6,153.46 266.6,152.52 267.6,152.35 268.6,153.5 269.6,154.04 270.6,153.8 271.6,152.84 272.6,152.94 273.6,152.66 274.6,154.46 275.6,153.23 276.6,152.9 277.6,152.54 278.6,154.09 279.6,154.26 280.6,153.46 281.6,152.27 282.6,154.06 283.6,153.71 284.6,152.55 285.6,152.97 286.6,152.33 287.6,153.37 288.6,152.53 289.6,154.23 290.6,151.85 291.6,153.89 292.6,153.43 293.6,152.37 294.6,151.58 295.6,152.68 296.6,153.63 297.6,151.81 298.6,153.05 299.6,153.02 300.6,153.45 301.6,153.1 302.6,152.53 303.6,151.29 304.6,153.09 305.6,151.91 306.6,152.99 307.6,152.74 308.6,152.14 309.6,153.45 310.6,153.49 311.6,151.37 312.6,152.63 313.6,151.96 314.6,153.24 315.6,153.38 316.6,152.59 317.6,152.75 318.6,152.52 319.6,151.38 320.6,153.35 321.6,152.17 322.6,151.58 323.6,152.95 324.6,150.92 325.6,152.11 326.6,151.93 327.6,152.74 328.6,152.7 329.6,151.47 330.6,150.95 331.6,151.9 332.6,152.73 333.6,152.98 334.6,152.98 335.6,151.07 336.6,151.23 337.6,152.12 338.6,152.64 339.6,151.24 340.6,152.62 341.6,150.95 342.6,152.91 343.6,151.87 344.6,151.77 345.6,151.94 346.6,152.87 347.6,151.39 348.6,151.8 349.6,152.13 350.6,151.72 351.6,152.81 352.6,151.01 353.6,150.64 354.6,152.43 355.6,151.54 356.6,150.8 357.6,152.71 358.6,152.33 359.6,150.81 360.6,152.09 361.6,151.23 362.6,150.58 363.6,150.63 364.6,150.97 365.6,151.7 366.6,151.3 367.6,151.71 368.6,150.87 369.6,152.01 370.6,152.57 371.6,152.59 372.6,152.3 373.6,152.73 374.6,151.21 375.6,150.98 376.6,152.73 377.6,151.06 378.6,151.12 379.6,152.63 380.6,152.53 381.6,151.54 382.6,150.56 383.6,152.3 384.6,153.06 385.6,151.88 386.6,151.89 387.6,151.1 388.6,150.9 389.6,152.08 390.6,152.14 391.6,151.17 392.6,152.89 393.6,153.14 394.6,150.92 395.6,151.98 396.6,151.65 397.6,152.17 398.6,152.42 399.6,152.7 400.6,151.38 401.6,152.85 402.6,151.47 403.6,152.32 404.6,153.33 405.6,152.87 406.6,152.7 407.6,152.66 408.6,153.68 409.6,151.82 410.6,153.12 411.6,153.33 412.6,153.57 413.6,153.08 414.6,153.29 415.6,153.21 416.6,152.25 417.6,151.42 418.6,153.08 419.6,152.05 420.6,153.21 421.6,153.22 422.6,152.92 423.6,154.17 424.6,153.42 425.6,154.18 426.6,153.26 427.6,152.35 428.6,151.85 429.6,152.72 430.6,152.43 431.6,153.23 432.6,154.35 433.6,154.45 434.6,154 435.6,153.47 436.6,152.06 437.6,152.39 438.6,152.44 439.6,153.62 440.6,154.5 441.6,153.43 442.6,153.02 443.6,153.78 444.6,152.83 445.6,152.87 446.6,152.75 447.6,152.53 448.6,153.14 449.6,154.08 450.6,154.71 451.6,152.34 452.6,153.27 453.6,154.69 454.6,153.53 455.6,154.05 456.6,154.72 457.6,153.75 458.6,153.81 459.6,152.72 460.6,153.56 461.6,153.34 462.6,153.38 463.6,153.7 464.6,154.21 465.6,154.78 466.6,154.1 467.6,152.48 468.6,154.22 469.6,153.11 470.6,153.95 471.6,153.71 472.6,154.12 473.6,152.8 474.6,154.53 475.6,152.24 476.6,152.83 477.6,153.74 478.6,153.52 479.6,152.32 480.6,153.52 481.6,153.04 482.6,152.61 483.6,153.98 484.6,152.22 485.6,154.12 486.6,154 487.6,153.08 488.6,154.07 489.6,153.64 490.6,152.77 491.6,153.85 492.6,153 493.6,152.11 494.6,152.04 495.6,153.28 496.6,153.58 497.6,153.79 498.6,152.3 499.6,151.93 500.6,153.58 501.6,152.4 502.6,152.57 503.6,152.56 504.6,153.42 505.6,153.94 506.6,153.89 507.6,153.57 508.6,152.28 509.6,153.85 510.6,152.03 511.6,152.3 512.6,152.35 513.6,151.79 514.6,153.32 515.6,153.39 516.6,151.64 517.6,153.43 518.6,151.16 519.6,152.48 520.6,153.54 521.6,153.08 522.6,152.37 523.6,151.13 524.6,152.78 525.6,151.05 526.6,151.16 527.6,152.43 528.6,151.28 529.6,152.02 530.6,151.64 531.6,153.09 532.6,151.82 533.6,152.36 534.6,152.83 535.6,152.55 536.6,152.58 537.6,152.48 538.6,152.76 538.6,203.24 537.6,203.94 536.6,203.77 535.6,203.45 534.6,202.83 533.6,203.65 532.6,203.26 531.6,203.66 530.6,202.83 529.6,203.99 528.6,204.04 527.6,202.74 526.6,204.08 525.6,203.84 524.6,204.58 523.6,202.5 522.6,204.38 521.6,202.55 520.6,204.12 519.6,203.95 518.6,203.86 517.6,203.3 516.6,204.58 515.6,204.12 514.6,204.1 513.6,204.21 512.6,203.8 511.6,203.78 510.6,203.81 509.6,205.24 508.6,204 507.6,203.79 506.6,204.18 505.6,205.53 504.6,204.6 503.6,203.47 502.6,205.09 501.6,203.61 500.6,205.09 499.6,204.11 498.6,205.08 497.6,203.59 496.6,204.2 495.6,204.72 494.6,203.71 493.6,205.81 492.6,204.52 491.6,205.99 490.6,205.05 489.6,206.23 488.6,204.65 487.6,204.39 486.6,204.3 485.6,205.4 484.6,204.11 483.6,206.01 482.6,204.75 481.6,205.12 480.6,205.54 479.6,205.68 478.6,204.13 477.6,204.23 476.6,205.09 475.6,204.17 474.6,206.31 473.6,206.59 472.6,204.56 471.6,205.72 470.6,205.56 469.6,204.81 468.6,205.75 467.6,206.46 466.6,204.77 465.6,206.64 464.6,205.55 463.6,205.27 462.6,204.87 461.6,205.94 460.6,204.53 459.6,204.34 458.6,205.38 457.6,204.48 456.6,206.29 455.6,205.37 454.6,206.57 453.6,204.75 452.6,205.35 451.6,206.44 450.6,206.52 449.6,204.18 448.6,206.36 447.6,205.97 446.6,204.1 445.6,204.01 444.6,205.81 443.6,205.38 442.6,204.65 441.6,205.44 440.6,204.95 439.6,203.99 438.6,205.1 437.6,205.01 436.6,206.18 435.6,205.71 434.6,203.91 433.6,205.34 432.6,205.13 431.6,204.95 430.6,205.96 429.6,203.83 428.6,204.05 427.6,204.56 426.6,205.41 425.6,203.52 424.6,205.41 423.6,205.08 422.6,204.39 421.6,204.83 420.6,204.2 419.6,205.75 418.6,204.88 417.6,204.16 416.6,204.42 415.6,203.36 414.6,204.2 413.6,205.12 412.6,205.38 411.6,204.12 410.6,205.06 409.6,205.38 408.6,205.07 407.6,204.27 406.6,203.98 405.6,205.14 404.6,204.96 403.6,202.89 402.6,203.25 401.6,203.85 400.6,203.96 399.6,204.95 398.6,202.76 397.6,203.82 396.6,203.9 395.6,204.65 394.6,205.11 393.6,202.86 392.6,205.17 391.6,203.11 390.6,202.94 389.6,203.88 388.6,202.62 387.6,202.69 386.6,204.27 385.6,204.44 384.6,202.75 383.6,204.81 382.6,202.95 381.6,204.19 380.6,202.73 379.6,203.48 378.6,202.63 377.6,204.25 376.6,202.7 375.6,204.94 374.6,204.74 373.6,203.15 372.6,204.43 371.6,202.92 370.6,203.9 369.6,203.69 368.6,203.95 367.6,202.72 366.6,203.38 365.6,203.44 364.6,202.81 363.6,203.63 362.6,204.2 361.6,203.92 360.6,203.15 359.6,202.9 358.6,202.38 357.6,202.66 356.6,203.93 355.6,203.16 354.6,204.68 353.6,203.48 352.6,203.59 351.6,204.77 350.6,203.46 349.6,202.57 348.6,203.68 347.6,204.5 346.6,203.78 345.6,202.52 344.6,203.77 343.6,203 342.6,203.86 341.6,204.73 340.6,204.87 339.6,203.54 338.6,204.03 337.6,203.95 336.6,204.51 335.6,204 334.6,202.88 333.6,203.96 332.6,204.49 331.6,204.6 330.6,203.13 329.6,204.82 328.6,203.24 327.6,202.98 326.6,202.92 325.6,204.87 324.6,204.04 323.6,203.83 322.6,205.31 321.6,205.03 320.6,205.54 319.6,205.37 318.6,204.92 317.6,205.21 316.6,203.64 315.6,204.35 314.6,205.24 313.6,204.67 312.6,205.59 311.6,204.43 310.6,205.16 309.6,203.54 308.6,205.4 307.6,205.33 306.6,204.75 305.6,204.32 304.6,203.92 303.6,204.71 302.6,203.97 301.6,204.05 300.6,206.06 299.6,205.29 298.6,204.78 297.6,203.77 296.6,204.29 295.6,203.76 294.6,204.08 293.6,205.81 292.6,205.26 291.6,203.91 290.6,203.91 289.6,205.03 288.6,206.05 287.6,205.18 286.6,205 285.6,204.66 284.6,204.4 283.6,206.45 282.6,206.21 281.6,205.32 280.6,204.87 279.6,205.06 278.6,206.46 277.6,205.22 276.6,205.85 275.6,206.45 274.6,205.86 273.6,204.6 272.6,205.94 271.6,204.22 270.6,206.6 269.6,205.51 268.6,204.82 267.6,205.8 266.6,206.2 265.6,206.43 264.6,205.77 263.6,205.28 262.6,206.56 261.6,205.94 260.6,205.87 259.6,205.29 258.6,205.78 257.6,206.35 256.6,206.56 255.6,206.08 254.6,206.68 253.6,206.13 252.6,206.64 251.6,205.72 250.6,206.89 249.6,206.19 248.6,205.94 247.6,206.78 246.6,206.64 245.6,204.36 244.6,205.78 243.6,205.96 242.6,206.55 241.6,204.57 240.6,205.18 239.6,204.36 238.6,204.89 237.6,204.71 236.6,204.89 235.6,206.37 234.6,204.73 233.6,205.99 232.6,204.87 231.6,206.23 230.6,205.9 229.6,206.55 228.6,204.3 227.6,205.58 226.6,206.46 225.6,206.41 224.6,204.44 223.6,206.05 222.6,204.3 221.6,206.13 220.6,205.11 219.6,205.01 218.6,205.37 217.6,205.3 216.6,203.95 215.6,204.59 214.6,204.38 213.6,206.25 212.6,205.32 211.6,204.65 210.6,205.9 209.6,205.66 208.6,204.24 207.6,204.61 206.6,205.16 205.6,205.36 204.6,204.59 203.6,203.86 202.6,203.53 201.6,203.99 200.6,205.29 199.6,204.15 198.6,203.96 197.6,204.87 196.6,204.24 195.6,204.4 194.6,203.69 193.6,205.32 192.6,204.1 191.6,204.1 190.6,203.22 189.6,203.6 188.6,204.82 187.6,205.54 186.6,203.65 185.6,204.62 184.6,204.54 183.6,205.04 182.6,204.03 181.6,203.43 180.6,202.93 179.6,202.79 178.6,204.33 177.6,205.21 176.6,202.79 175.6,204.76 174.6,203.43 173.6,204.68 172.6,203.93 171.6,204.1 170.6,203.77 169.6,203.99" fill="#4a87c0"/>
<polyline points="550.4,151.76 551.39,155.48 552.62,166.54 553.86,183.08 555.1,202.6 556.34,183.08 557.58,166.54 558.81,155.48 560.05,151.6 561.29,155.48 562.52,166.54 563.76,183.08 565,202.6 566.24,183.08 567.48,166.54 568.71,155.48 569.95,151.6 571.19,155.48 572.42,166.54 573.66,183.08 574.9,202.6 576.14,183.08 577.38,166.54 578.61,155.48 579.85,151.6 581.09,155.48 582.33,166.54 583.56,183.08 584.8,202.6 586.04,183.08 587.27,166.54 588.51,155.48 589.75,151.6 590.99,155.48 592.23,166.54 593.46,183.08 594.7,202.6 595.94,183.08 597.17,166.54 598.41,155.48 599.65,151.6 600.89,155.48 602.12,166.54 603.36,183.08 604.6,202.6 605.84,183.08 607.08,166.54 608.31,155.48 609.55,151.6 610.79,155.48 612.02,166.54 613.26,183.08 614.5,202.6 615.74,183.08 616.98,166.54 618.21,155.48 619.45,151.6 620.69,155.48 621.92,166.54 623.16,183.08 624.4,202.6 625.64,183.08 626.88,166.54 628.11,155.48 629.35,151.6 630.59,155.48 631.83,166.54 633.06,183.08 634.3,202.6 635.54,183.08 636.77,166.54 638.01,155.48 639.25,151.6 640.49,155.48 641.73,166.54 642.96,183.08 644.2,202.6 645.44,183.08 646.67,166.54 647.91,155.48 649.15,151.6 650.39,155.48 651.62,166.54 652.86,183.08 654.1,202.6 655.34,183.08 656.58,166.54 657.81,155.48 659.05,151.6 660.29,155.48 661.52,166.54 662.76,183.08 664,202.6 665.24,183.08 666.48,166.54 667.71,155.48 668.95,151.6 670.19,155.48 671,162.02" fill="none" stroke="#4a87c0" stroke-width="1.1"/>
<line x1="37.5" y1="144.5" x2="157.5" y2="144.5" stroke="#9a9a9a" stroke-width="1" />
<line x1="37.5" y1="216.5" x2="157.5" y2="216.5" stroke="#6a6a6a" stroke-width="1" />
<line x1="165" y1="144.5" x2="536" y2="144.5" stroke="#9a9a9a" stroke-width="1" />
<line x1="165" y1="216.5" x2="536" y2="216.5" stroke="#6a6a6a" stroke-width="1" />
<line x1="545.5" y1="144.5" x2="671.3" y2="144.5" stroke="#9a9a9a" stroke-width="1" />
<line x1="545.5" y1="216.5" x2="671.3" y2="216.5" stroke="#6a6a6a" stroke-width="1" />
<line x1="37.5" y1="144.5" x2="37.5" y2="216.5" stroke="#6a6a6a" stroke-width="1" />
<line x1="671.3" y1="144.5" x2="671.3" y2="216.5" stroke="#bcbcbc" stroke-width="1" />
<line x1="153" y1="147.1" x2="164" y2="142.3" stroke="#6a6a6a" stroke-width="0.7" />
<line x1="153" y1="219.3" x2="164" y2="214.3" stroke="#6a6a6a" stroke-width="0.7" />
<line x1="164.5" y1="147.1" x2="175.5" y2="142.3" stroke="#6a6a6a" stroke-width="0.7" />
<line x1="164.5" y1="219.3" x2="175.5" y2="214.3" stroke="#6a6a6a" stroke-width="0.7" />
<line x1="533.6" y1="147.1" x2="544.6" y2="142.3" stroke="#6a6a6a" stroke-width="0.7" />
<line x1="533.6" y1="219.3" x2="544.6" y2="214.3" stroke="#6a6a6a" stroke-width="0.7" />
<line x1="544.6" y1="147.1" x2="555.6" y2="142.3" stroke="#6a6a6a" stroke-width="0.7" />
<line x1="544.6" y1="219.3" x2="555.6" y2="214.3" stroke="#6a6a6a" stroke-width="0.7" />
<line x1="35.3" y1="204.4" x2="37.5" y2="204.4" stroke="#6a6a6a" stroke-width="0.8" />
<text transform="translate(31,207.8) scale(0.82,1)" font-size="9.7" text-anchor="end" fill="#1c1c1c" stroke="#1c1c1c" stroke-width="0.12">0.0</text>
<line x1="35.3" y1="174.2" x2="37.5" y2="174.2" stroke="#6a6a6a" stroke-width="0.8" />
<text transform="translate(31,177.6) scale(0.82,1)" font-size="9.7" text-anchor="end" fill="#1c1c1c" stroke="#1c1c1c" stroke-width="0.12">0.5</text>
<line x1="35.3" y1="144" x2="37.5" y2="144" stroke="#6a6a6a" stroke-width="0.8" />
<text transform="translate(31,147.4) scale(0.82,1)" font-size="9.7" text-anchor="end" fill="#1c1c1c" stroke="#1c1c1c" stroke-width="0.12">1.0</text>
<line x1="36.2" y1="189.3" x2="37.5" y2="189.3" stroke="#6a6a6a" stroke-width="0.6" />
<line x1="36.2" y1="159.1" x2="37.5" y2="159.1" stroke="#6a6a6a" stroke-width="0.6" />
<line x1="37.5" y1="216.5" x2="37.5" y2="218.5" stroke="#6a6a6a" stroke-width="0.8" />
<text transform="translate(37.5,229.3) scale(0.82,1)" font-size="9.7" text-anchor="middle" fill="#1c1c1c" stroke="#1c1c1c" stroke-width="0.12">0</text>
<line x1="85.7" y1="216.5" x2="85.7" y2="218.5" stroke="#6a6a6a" stroke-width="0.8" />
<text transform="translate(85.7,229.3) scale(0.82,1)" font-size="9.7" text-anchor="middle" fill="#1c1c1c" stroke="#1c1c1c" stroke-width="0.12">20</text>
<line x1="133.9" y1="216.5" x2="133.9" y2="218.5" stroke="#6a6a6a" stroke-width="0.8" />
<text transform="translate(133.9,229.3) scale(0.82,1)" font-size="9.7" text-anchor="middle" fill="#1c1c1c" stroke="#1c1c1c" stroke-width="0.12">40</text>
<line x1="61.6" y1="216.5" x2="61.6" y2="217.7" stroke="#6a6a6a" stroke-width="0.6" />
<line x1="109.8" y1="216.5" x2="109.8" y2="217.7" stroke="#6a6a6a" stroke-width="0.6" />
<line x1="214.9" y1="216.5" x2="214.9" y2="218.5" stroke="#6a6a6a" stroke-width="0.8" />
<text transform="translate(214.9,229.3) scale(0.82,1)" font-size="9.7" text-anchor="middle" fill="#1c1c1c" stroke="#1c1c1c" stroke-width="0.12">2000</text>
<line x1="261.6" y1="216.5" x2="261.6" y2="218.5" stroke="#6a6a6a" stroke-width="0.8" />
<text transform="translate(261.6,229.3) scale(0.82,1)" font-size="9.7" text-anchor="middle" fill="#1c1c1c" stroke="#1c1c1c" stroke-width="0.12">4000</text>
<line x1="308.3" y1="216.5" x2="308.3" y2="218.5" stroke="#6a6a6a" stroke-width="0.8" />
<text transform="translate(308.3,229.3) scale(0.82,1)" font-size="9.7" text-anchor="middle" fill="#1c1c1c" stroke="#1c1c1c" stroke-width="0.12">6000</text>
<line x1="355" y1="216.5" x2="355" y2="218.5" stroke="#6a6a6a" stroke-width="0.8" />
<text transform="translate(355,229.3) scale(0.82,1)" font-size="9.7" text-anchor="middle" fill="#1c1c1c" stroke="#1c1c1c" stroke-width="0.12">8000</text>
<line x1="401.7" y1="216.5" x2="401.7" y2="218.5" stroke="#6a6a6a" stroke-width="0.8" />
<text transform="translate(401.7,229.3) scale(0.82,1)" font-size="9.7" text-anchor="middle" fill="#1c1c1c" stroke="#1c1c1c" stroke-width="0.12">10000</text>
<line x1="448.4" y1="216.5" x2="448.4" y2="218.5" stroke="#6a6a6a" stroke-width="0.8" />
<text transform="translate(448.4,229.3) scale(0.82,1)" font-size="9.7" text-anchor="middle" fill="#1c1c1c" stroke="#1c1c1c" stroke-width="0.12">12000</text>
<line x1="495.1" y1="216.5" x2="495.1" y2="218.5" stroke="#6a6a6a" stroke-width="0.8" />
<text transform="translate(495.1,229.3) scale(0.82,1)" font-size="9.7" text-anchor="middle" fill="#1c1c1c" stroke="#1c1c1c" stroke-width="0.12">14000</text>
<line x1="191.55" y1="216.5" x2="191.55" y2="217.7" stroke="#6a6a6a" stroke-width="0.6" />
<line x1="238.25" y1="216.5" x2="238.25" y2="217.7" stroke="#6a6a6a" stroke-width="0.6" />
<line x1="284.95" y1="216.5" x2="284.95" y2="217.7" stroke="#6a6a6a" stroke-width="0.6" />
<line x1="331.65" y1="216.5" x2="331.65" y2="217.7" stroke="#6a6a6a" stroke-width="0.6" />
<line x1="378.35" y1="216.5" x2="378.35" y2="217.7" stroke="#6a6a6a" stroke-width="0.6" />
<line x1="425.05" y1="216.5" x2="425.05" y2="217.7" stroke="#6a6a6a" stroke-width="0.6" />
<line x1="471.75" y1="216.5" x2="471.75" y2="217.7" stroke="#6a6a6a" stroke-width="0.6" />
<line x1="518.45" y1="216.5" x2="518.45" y2="217.7" stroke="#6a6a6a" stroke-width="0.6" />
<line x1="575" y1="216.5" x2="575" y2="218.5" stroke="#6a6a6a" stroke-width="0.8" />
<text transform="translate(575,229.3) scale(0.82,1)" font-size="9.7" text-anchor="middle" fill="#1c1c1c" stroke="#1c1c1c" stroke-width="0.12">15960</text>
<line x1="623.25" y1="216.5" x2="623.25" y2="218.5" stroke="#6a6a6a" stroke-width="0.8" />
<text transform="translate(623.25,229.3) scale(0.82,1)" font-size="9.7" text-anchor="middle" fill="#1c1c1c" stroke="#1c1c1c" stroke-width="0.12">15980</text>
<line x1="671.5" y1="216.5" x2="671.5" y2="218.5" stroke="#6a6a6a" stroke-width="0.8" />
<text transform="translate(671.5,229.3) scale(0.82,1)" font-size="9.7" text-anchor="middle" fill="#1c1c1c" stroke="#1c1c1c" stroke-width="0.12">16000</text>
<line x1="599.62" y1="216.5" x2="599.62" y2="217.7" stroke="#6a6a6a" stroke-width="0.6" />
<line x1="647.88" y1="216.5" x2="647.88" y2="217.7" stroke="#6a6a6a" stroke-width="0.6" />
<text x="368.2" y="243.9" font-size="10.7" text-anchor="middle" fill="#1c1c1c" >Time (s)</text>
<text transform="translate(11.6,179.2) rotate(-90) scale(1.0,1)" font-size="10" text-anchor="middle" fill="#1c1c1c">(R<tspan font-size="7" dy="3">I</tspan><tspan dy="-3">-R</tspan><tspan font-size="7" dy="2.2">0</tspan><tspan dy="-2.2">)/R</tspan><tspan font-size="7" dy="2.2">0</tspan></text>
<text transform="translate(1,146.1) scale(0.9,1)" font-size="16.8" text-anchor="start" fill="#1c1c1c" >e</text>
<defs><linearGradient id="garr" x1="0" y1="0" x2="1" y2="0"><stop offset="0" stop-color="#f2f2f2"/><stop offset="1" stop-color="#e2e2e2"/></linearGradient><linearGradient id="gbarr" x1="0" y1="0" x2="0" y2="1"><stop offset="0" stop-color="#d4e6f6"/><stop offset="1" stop-color="#5b9ad6"/></linearGradient></defs>
<text x="34.2" y="271.5" font-size="10.4" text-anchor="start" fill="#2a5080" >Initial state</text>
<text x="145.2" y="271.5" font-size="10.5" text-anchor="start" fill="#2a5080" >Impact state data acquisition</text>
<text x="292" y="271.5" font-size="10.5" text-anchor="start" fill="#2a5080" >CNN-Transformer hybrid</text>
<text x="419.6" y="271.5" font-size="10.5" text-anchor="start" fill="#2a5080" >Impact identification</text>
<text transform="translate(5.3,259.7) scale(0.9,1)" font-size="16.8" text-anchor="start" fill="#1c1c1c" >f</text>
<rect x="81.2" y="275.3" width="72" height="21" rx="3.5" fill="#fff" stroke="#c9c9c9" stroke-width="1"/>
<text x="117.3" y="283.7" font-size="7.1" text-anchor="middle" fill="#4a88c8" >Digital signal</text>
<text x="117.8" y="292.4" font-size="7.1" text-anchor="middle" fill="#4a88c8" >processing system</text>
<path d="M94.5,312.8H109.7V296.5" fill="none" stroke="#9a9a9a" stroke-width="0.9" stroke-dasharray="3.8,1.7"/>
<path d="M91,322.6H122.2V296.5" fill="none" stroke="#9a9a9a" stroke-width="0.9" stroke-dasharray="3.8,1.7"/>
<rect x="29.4" y="310.5" width="60.8" height="15" fill="#f4f6f2"/>
<rect x="29.4" y="310.6" width="3.1" height="14.8" fill="#b4b4b4"/>
<rect x="87.1" y="310.6" width="3.1" height="14.8" fill="#b4b4b4"/>
<line x1="32.5" y1="311.6" x2="87.1" y2="311.6" stroke="#a9cc8c" stroke-width="1.4" />
<line x1="32.5" y1="322.6" x2="87.1" y2="322.6" stroke="#a9cc8c" stroke-width="1.4" />
<path d="M33.1,321.9L36.48,313.3L39.87,321.9ZM39.87,321.9L43.25,313.3L46.64,321.9ZM46.64,321.9L50.02,313.3L53.41,321.9ZM53.41,321.9L56.79,313.3L60.18,321.9ZM60.18,321.9L63.56,313.3L66.95,321.9ZM66.95,321.9L70.33,313.3L73.72,321.9ZM73.72,321.9L77.1,313.3L80.49,321.9ZM80.49,321.9L83.87,313.3L87.26,321.9Z" fill="#4a8bd0"/>
<rect x="17.1" y="306.1" width="86" height="3.5" fill="#a9a9a9"/>
<rect x="13.8" y="325.9" width="92.3" height="4.1" fill="#a9a9a9"/>
<rect x="23.6" y="309.6" width="4.4" height="16.3" fill="#dcdcdc"/>
<rect x="23.6" y="302.2" width="4.4" height="3.9" fill="#dcdcdc"/>
<line x1="23.6" y1="302" x2="23.6" y2="330.3" stroke="#2f3f5f" stroke-width="0.9" />
<line x1="28" y1="302" x2="28" y2="330.3" stroke="#2f3f5f" stroke-width="0.9" />
<rect x="21.7" y="297.9" width="8.2" height="3.9" fill="#dedede" stroke="#263656" stroke-width="1.1"/>
<line x1="20.2" y1="303.9" x2="31.4" y2="303.9" stroke="#34445f" stroke-width="0.9" />
<rect x="21.6" y="330.4" width="8.4" height="3.2" rx="0.4" fill="#8c8c8c" stroke="#2f3f5f" stroke-width="0.9"/>
<rect x="23.6" y="333.6" width="4.4" height="2.4" fill="#fff" stroke="#2f3f5f" stroke-width="0.7"/>
<rect x="91.5" y="309.6" width="4.4" height="16.3" fill="#dcdcdc"/>
<rect x="91.5" y="302.2" width="4.4" height="3.9" fill="#dcdcdc"/>
<line x1="91.5" y1="302" x2="91.5" y2="330.3" stroke="#2f3f5f" stroke-width="0.9" />
<line x1="95.9" y1="302" x2="95.9" y2="330.3" stroke="#2f3f5f" stroke-width="0.9" />
<rect x="89.6" y="297.9" width="8.2" height="3.9" fill="#dedede" stroke="#263656" stroke-width="1.1"/>
<line x1="88.1" y1="303.9" x2="99.3" y2="303.9" stroke="#34445f" stroke-width="0.9" />
<rect x="89.5" y="330.4" width="8.4" height="3.2" rx="0.4" fill="#8c8c8c" stroke="#2f3f5f" stroke-width="0.9"/>
<rect x="91.5" y="333.6" width="4.4" height="2.4" fill="#fff" stroke="#2f3f5f" stroke-width="0.7"/>
<polygon points="3.9,373.6 35.1,386.7 37.8,385.42 40.51,384.15 43.21,382.87 45.91,381.59 48.62,380.32 51.32,379.04 54.02,377.76 56.73,376.49 59.43,375.21 62.13,373.93 64.84,372.66 67.54,371.38 70.24,370.1 72.95,368.83 75.65,367.55 78.35,366.27 81.06,365 83.76,363.72 86.46,362.44 89.17,361.17 91.87,359.89 94.57,358.61 97.28,357.34 99.98,356.06 102.68,354.78 105.39,353.51 108.09,352.23 110.79,350.95 113.5,349.68 116.2,348.4 116.2,348.4 116.2,350.2 116.2,350.2 113.5,351.48 110.79,352.75 108.09,354.03 105.39,355.31 102.68,356.58 99.98,357.86 97.28,359.14 94.57,360.41 91.87,361.69 89.17,362.97 86.46,364.24 83.76,365.52 81.06,366.8 78.35,368.07 75.65,369.35 72.95,370.63 70.24,371.9 67.54,373.18 64.84,374.46 62.13,375.73 59.43,377.01 56.73,378.29 54.02,379.56 51.32,380.84 48.62,382.12 45.91,383.39 43.21,384.67 40.51,385.95 37.8,387.22 35.1,388.5 3.9,375.4" fill="#858585"/>
<polygon points="3.9,373.6 6.84,372.66 9.77,371.71 12.71,370.77 15.65,369.83 18.58,368.88 21.52,367.94 24.46,367 27.39,366.05 30.33,365.11 33.27,364.17 36.2,363.22 39.14,362.28 42.08,361.34 45.01,360.39 47.95,359.45 50.89,358.51 53.82,357.56 56.76,356.62 59.7,355.68 62.63,354.73 65.57,353.79 68.51,352.85 71.44,351.9 74.38,350.96 77.32,350.02 80.25,349.07 83.19,348.13 86.13,347.19 89.06,346.24 92,345.3 116.2,348.4 113.5,349.68 110.79,350.95 108.09,352.23 105.39,353.51 102.68,354.78 99.98,356.06 97.28,357.34 94.57,358.61 91.87,359.89 89.17,361.17 86.46,362.44 83.76,363.72 81.06,365 78.35,366.27 75.65,367.55 72.95,368.83 70.24,370.1 67.54,371.38 64.84,372.66 62.13,373.93 59.43,375.21 56.73,376.49 54.02,377.76 51.32,379.04 48.62,380.32 45.91,381.59 43.21,382.87 40.51,384.15 37.8,385.42 35.1,386.7" fill="#a6a6a6"/>
<path d="M30.33,365.11L59.43,375.21M45.75,360.16L73.62,368.51M61.16,355.21L87.81,361.8M76.58,350.25L102.01,355.1M40.03,368.48L43.03,367.37L46.03,366.26L49.04,365.16L52.04,364.05L55.04,362.94L58.04,361.83L61.04,360.73L64.04,359.62L67.05,358.51L70.05,357.41L73.05,356.3L76.05,355.19L79.05,354.08L82.06,352.98L85.06,351.87L88.06,350.76L91.06,349.65L94.06,348.55L97.06,347.44L100.07,346.33M49.73,371.84L52.65,370.62L55.57,369.4L58.49,368.17L61.41,366.95L64.33,365.72L67.25,364.5L70.17,363.28L73.09,362.05L76.01,360.83L78.93,359.6L81.85,358.38L84.77,357.16L87.69,355.93L90.61,354.71L93.53,353.49L96.45,352.26L99.37,351.04L102.29,349.81L105.21,348.59L108.13,347.37" fill="none" stroke="#858585" stroke-width="0.55"/>
<path d="M6.54,373.25L11.3,371.72L14.26,372.95L9.5,374.48ZM16.94,369.75L21.7,368.22L24.66,369.45L19.9,370.98ZM27.04,366.55L31.8,365.02L34.76,366.25L30,367.78ZM67.14,352.45L71.9,350.92L74.86,352.15L70.1,353.68ZM32.94,384.35L37.7,382.82L40.66,384.05L35.9,385.58ZM43.94,379.15L48.7,377.62L51.66,378.85L46.9,380.38ZM53.34,374.75L58.1,373.22L61.06,374.45L56.3,375.98ZM91.04,357.65L95.8,356.12L98.76,357.35L94,358.88Z" fill="#6ea558"/>
<path d="M57,337V358" fill="none" stroke="#8c8c8c" stroke-width="1.4" stroke-dasharray="3.2,2"/>
<path d="M56.2,359.5H57.8V363.2L59.8,362.4L57,371.6L54.2,362.4L56.2,363.2Z" fill="#7c7c7c"/>
<polygon points="148.3,334.2 181.5,343.6 184.52,343.04 187.51,342.39 190.46,341.66 193.38,340.84 196.27,339.95 199.13,338.98 201.96,337.95 204.77,336.86 207.55,335.71 210.32,334.51 213.06,333.27 215.79,331.98 218.51,330.66 221.21,329.31 223.91,327.93 226.59,326.53 229.27,325.12 231.95,323.69 234.62,322.26 237.29,320.83 239.97,319.4 242.65,317.99 245.34,316.58 248.03,315.2 250.74,313.84 253.46,312.51 256.19,311.22 258.94,309.97 261.71,308.76 264.5,307.6 264.5,307.6 264.5,309.4 264.5,309.4 261.71,310.56 258.94,311.77 256.19,313.02 253.46,314.31 250.74,315.64 248.03,317 245.34,318.38 242.65,319.79 239.97,321.2 237.29,322.63 234.62,324.06 231.95,325.49 229.27,326.92 226.59,328.33 223.91,329.73 221.21,331.11 218.51,332.46 215.79,333.78 213.06,335.07 210.32,336.31 207.55,337.51 204.77,338.66 201.96,339.75 199.13,340.78 196.27,341.75 193.38,342.64 190.46,343.46 187.51,344.19 184.52,344.84 181.5,345.4 148.3,336" fill="#858585"/>
<polygon points="148.3,334.2 151.06,332.56 153.85,330.96 156.65,329.41 159.48,327.91 162.33,326.44 165.19,325.02 168.08,323.64 170.98,322.31 173.9,321.01 176.84,319.75 179.79,318.53 182.76,317.34 185.74,316.19 188.74,315.08 191.75,314 194.77,312.96 197.81,311.95 200.85,310.97 203.91,310.02 206.97,309.1 210.05,308.21 213.13,307.35 216.22,306.52 219.32,305.71 222.42,304.93 225.53,304.18 228.64,303.45 231.76,302.75 234.88,302.06 238,301.4 264.5,307.6 261.71,308.76 258.94,309.97 256.19,311.22 253.46,312.51 250.74,313.84 248.03,315.2 245.34,316.58 242.65,317.99 239.97,319.4 237.29,320.83 234.62,322.26 231.95,323.69 229.27,325.12 226.59,326.53 223.91,327.93 221.21,329.31 218.51,330.66 215.79,331.98 213.06,333.27 210.32,334.51 207.55,335.71 204.77,336.86 201.96,337.95 199.13,338.98 196.27,339.95 193.38,340.84 190.46,341.66 187.51,342.39 184.52,343.04 181.5,343.6" fill="#a6a6a6"/>
<path d="M176.55,319.87L210.04,334.63M191.53,314.08L223.71,328.03M206.82,309.14L237.16,320.9M222.34,304.95L250.67,313.88M187.71,324.79L190.61,323.56L193.51,322.33L196.42,321.12L199.33,319.92L202.25,318.73L205.18,317.56L208.11,316.41L211.04,315.27L213.98,314.16L216.93,313.06L219.89,311.99L222.85,310.94L225.82,309.91L228.8,308.91L231.78,307.93L234.78,306.98L237.78,306.05L240.79,305.16L243.81,304.3L246.83,303.47M198.88,329.71L201.71,328.47L204.53,327.21L207.35,325.94L210.17,324.67L212.98,323.38L215.79,322.1L218.6,320.81L221.41,319.53L224.23,318.25L227.05,316.98L229.87,315.73L232.7,314.49L235.53,313.27L238.38,312.07L241.23,310.9L244.09,309.76L246.96,308.65L249.85,307.57L252.75,306.53L255.67,305.53" fill="none" stroke="#858585" stroke-width="0.55"/>
<path d="M152.11,331.92L156.81,330.21L159.89,331.08L155.19,332.79ZM163.91,326.42L168.61,324.71L171.69,325.58L166.99,327.29ZM174.51,321.52L179.21,319.81L182.29,320.68L177.59,322.39ZM215.01,307.82L219.71,306.11L222.79,306.98L218.09,308.69ZM181.61,339.72L186.31,338.01L189.39,338.88L184.69,340.59ZM192.71,334.12L197.41,332.41L200.49,333.28L195.79,334.99ZM202.21,329.22L206.91,327.51L209.99,328.38L205.29,330.09ZM238.71,314.22L243.41,312.51L246.49,313.38L241.79,315.09Z" fill="#6ea558"/>
<polygon points="148.3,383.3 183.3,392.7 186.31,392.03 189.28,391.27 192.2,390.43 195.1,389.5 197.96,388.5 200.79,387.43 203.58,386.29 206.36,385.09 209.1,383.84 211.83,382.54 214.53,381.19 217.22,379.81 219.89,378.38 222.55,376.93 225.19,375.45 227.83,373.95 230.46,372.43 233.09,370.91 235.71,369.38 238.34,367.85 240.97,366.32 243.6,364.8 246.24,363.3 248.89,361.81 251.55,360.36 254.22,358.93 256.91,357.53 259.62,356.17 262.35,354.86 265.1,353.6 265.1,353.6 265.1,355.4 265.1,355.4 262.35,356.66 259.62,357.97 256.91,359.33 254.22,360.73 251.55,362.16 248.89,363.61 246.24,365.1 243.6,366.6 240.97,368.12 238.34,369.65 235.71,371.18 233.09,372.71 230.46,374.23 227.83,375.75 225.19,377.25 222.55,378.73 219.89,380.18 217.22,381.61 214.53,382.99 211.83,384.34 209.1,385.64 206.36,386.89 203.58,388.09 200.79,389.23 197.96,390.3 195.1,391.3 192.2,392.23 189.28,393.07 186.31,393.83 183.3,394.5 148.3,385.1" fill="#858585"/>
<polygon points="148.3,383.3 151.04,381.66 153.79,380.07 156.57,378.53 159.38,377.02 162.2,375.56 165.04,374.15 167.89,372.77 170.77,371.43 173.66,370.14 176.57,368.88 179.5,367.66 182.44,366.47 185.4,365.33 188.37,364.21 191.35,363.13 194.35,362.09 197.35,361.08 200.37,360.1 203.4,359.15 206.44,358.23 209.49,357.34 212.54,356.48 215.6,355.64 218.67,354.83 221.75,354.05 224.83,353.29 227.92,352.56 231.01,351.85 234.1,351.17 237.2,350.5 265.1,353.6 262.35,354.86 259.62,356.17 256.91,357.53 254.22,358.93 251.55,360.36 248.89,361.81 246.24,363.3 243.6,364.8 240.97,366.32 238.34,367.85 235.71,369.38 233.09,370.91 230.46,372.43 227.83,373.95 225.19,375.45 222.55,376.93 219.89,378.38 217.22,379.81 214.53,381.19 211.83,382.54 209.1,383.84 206.36,385.09 203.58,386.29 200.79,387.43 197.96,388.5 195.1,389.5 192.2,390.43 189.28,391.27 186.31,392.03 183.3,392.7" fill="#a6a6a6"/>
<path d="M176.28,369L211.56,382.67M191.13,363.21L225,375.56M206.29,358.27L238.21,367.92M221.67,354.07L251.48,360.39M188.04,373.56L190.91,372.29L193.78,371.03L196.65,369.78L199.53,368.55L202.42,367.33L205.31,366.13L208.2,364.94L211.1,363.77L214.01,362.62L216.93,361.49L219.85,360.38L222.78,359.29L225.71,358.23L228.66,357.19L231.61,356.18L234.57,355.19L237.54,354.23L240.52,353.3L243.5,352.4L246.5,351.53M199.8,378.12L202.59,376.81L205.38,375.48L208.16,374.14L210.93,372.8L213.71,371.45L216.48,370.09L219.25,368.74L222.02,367.39L224.79,366.04L227.57,364.71L230.35,363.38L233.14,362.08L235.93,360.79L238.73,359.53L241.54,358.28L244.37,357.07L247.2,355.89L250.05,354.74L252.92,353.64L255.8,352.57" fill="none" stroke="#858585" stroke-width="0.55"/>
<path d="M151.71,380.65L156.4,378.92L159.49,379.75L154.8,381.48ZM164.51,375.05L169.2,373.32L172.29,374.15L167.6,375.88ZM174.91,370.45L179.6,368.72L182.69,369.55L178,371.28ZM238.71,360.55L243.4,358.82L246.49,359.65L241.8,361.38ZM181.61,388.85L186.3,387.12L189.39,387.95L184.7,389.68ZM192.71,382.85L197.4,381.12L200.49,381.95L195.8,383.68ZM201.91,377.35L206.6,375.62L209.69,376.45L205,378.18Z" fill="#6ea558"/>
<polygon points="407,351.7 439.4,360.1 442.15,359.58 444.87,358.98 447.55,358.3 450.2,357.54 452.83,356.72 455.43,355.83 458,354.88 460.55,353.87 463.08,352.82 465.59,351.71 468.09,350.57 470.57,349.39 473.04,348.18 475.49,346.93 477.94,345.67 480.37,344.38 482.81,343.09 485.24,341.78 487.66,340.47 490.09,339.15 492.52,337.84 494.96,336.54 497.4,335.26 499.84,333.99 502.3,332.74 504.77,331.52 507.25,330.33 509.75,329.18 512.27,328.07 514.8,327 514.8,327 514.8,328.8 514.8,328.8 512.27,329.87 509.75,330.98 507.25,332.13 504.77,333.32 502.3,334.54 499.84,335.79 497.4,337.06 494.96,338.34 492.52,339.64 490.09,340.95 487.66,342.27 485.24,343.58 482.81,344.89 480.37,346.18 477.94,347.47 475.49,348.73 473.04,349.98 470.57,351.19 468.09,352.37 465.59,353.51 463.08,354.62 460.55,355.67 458,356.68 455.43,357.63 452.83,358.52 450.2,359.34 447.55,360.1 444.87,360.78 442.15,361.38 439.4,361.9 407,353.5" fill="#858585"/>
<polygon points="407,351.7 409.63,350.23 412.29,348.8 414.96,347.41 417.65,346.07 420.36,344.76 423.08,343.5 425.82,342.27 428.58,341.09 431.36,339.94 434.14,338.83 436.95,337.75 439.76,336.72 442.59,335.71 445.43,334.74 448.28,333.8 451.14,332.89 454.02,332.02 456.9,331.17 459.79,330.36 462.69,329.57 465.6,328.81 468.51,328.08 471.43,327.37 474.36,326.69 477.29,326.04 480.22,325.41 483.16,324.8 486.11,324.21 489.05,323.64 492,323.1 514.8,327 512.27,328.07 509.75,329.18 507.25,330.33 504.77,331.52 502.3,332.74 499.84,333.99 497.4,335.26 494.96,336.54 492.52,337.84 490.09,339.15 487.66,340.47 485.24,341.78 482.81,343.09 480.37,344.38 477.94,345.67 475.49,346.93 473.04,348.18 470.57,349.39 468.09,350.57 465.59,351.71 463.08,352.82 460.55,353.87 458,354.88 455.43,355.83 452.83,356.72 450.2,357.54 447.55,358.3 444.87,358.98 442.15,359.58 439.4,360.1" fill="#a6a6a6"/>
<path d="M433.86,338.94L465.34,351.83M448.07,333.87L477.75,345.76M462.54,329.61L489.97,339.22M477.22,326.05L502.24,332.77M444.36,343.23L447.07,342.13L449.79,341.04L452.51,339.96L455.23,338.89L457.96,337.83L460.7,336.8L463.44,335.77L466.18,334.77L468.93,333.78L471.69,332.81L474.45,331.86L477.22,330.94L479.99,330.03L482.77,329.15L485.56,328.29L488.35,327.46L491.15,326.65L493.96,325.87L496.78,325.12L499.6,324.4M454.85,347.53L457.46,346.41L460.07,345.27L462.67,344.12L465.26,342.96L467.86,341.8L470.45,340.64L473.04,339.47L475.64,338.31L478.23,337.16L480.83,336.02L483.43,334.88L486.04,333.77L488.65,332.67L491.27,331.59L493.9,330.53L496.54,329.5L499.18,328.5L501.84,327.53L504.51,326.6L507.2,325.7" fill="none" stroke="#858585" stroke-width="0.55"/>
<path d="M410.98,349.3L415.72,347.7L418.82,348.5L414.08,350.1ZM421.98,344.2L426.72,342.6L429.82,343.4L425.08,345ZM431.98,340.5L436.72,338.9L439.82,339.7L435.08,341.3ZM468.78,328.4L473.52,326.8L476.62,327.6L471.88,329.2ZM438.08,356.8L442.82,355.2L445.92,356L441.18,357.6ZM447.78,351.6L452.52,350L455.62,350.8L450.88,352.4ZM457.08,347.2L461.82,345.6L464.92,346.4L460.18,348ZM491.58,333.2L496.32,331.6L499.42,332.4L494.68,334Z" fill="#6ea558"/>
<path d="M250,297Q252,295.5 254,297L254,299.3L257,299.3L252,308.8L247,299.3L250,299.3Z" fill="url(#gbarr)"/>
<path d="M218.7,346.2Q220.7,344.7 222.7,346.2L222.7,348.3L225.7,348.3L220.7,357.8L215.7,348.3L218.7,348.3Z" fill="url(#gbarr)"/>
<path d="M497,319Q499,317.5 501,319L501,321.5L504,321.5L499,331L494,321.5L497,321.5Z" fill="url(#gbarr)"/>
<text x="219.2" y="291.5" font-size="8.2" text-anchor="start" fill="#4f8fcc" >External pressure 1</text>
<text x="199.8" y="344.6" font-size="8.2" text-anchor="start" fill="#4f8fcc" >External pressure 2</text>
<text x="474.7" y="303.6" font-size="8.2" text-anchor="middle" fill="#4f8fcc" >Calculate impact</text>
<text x="474.8" y="313.2" font-size="8.2" text-anchor="middle" fill="#4f8fcc" >location &amp; pressure</text>
<path d="M119,332.1L131.1,332.1L131.1,328.9L140.6,333.8L131.1,338.7L131.1,335.5L119,335.5Z" fill="url(#garr)"/>
<path d="M271.9,333L284.3,333L284.3,329.8L293.8,334.7L284.3,339.6L284.3,336.4L271.9,336.4Z" fill="url(#garr)"/>
<path d="M397.5,332.8L408.9,332.8L408.9,329.6L418.4,334.5L408.9,339.4L408.9,336.2L397.5,336.2Z" fill="url(#garr)"/>
<path d="M307.3,307L334,283M307.3,307L334,315M307.3,307L334,352.8M307.3,307L334,387M307.3,335L334,283M307.3,335L334,315M307.3,335L334,352.8M307.3,335L334,387M307.3,362.4L334,283M307.3,362.4L334,315M307.3,362.4L334,352.8M307.3,362.4L334,387M334,283L359.4,315M334,283L359.4,352.8M334,283L359.4,387M334,315L359.4,283M334,315L359.4,352.8M334,315L359.4,387M334,352.8L359.4,283M334,352.8L359.4,315M334,352.8L359.4,387M334,387L359.4,283M334,387L359.4,315M334,387L359.4,352.8M359.4,283L389.5,335M359.4,315L389.5,335M359.4,352.8L389.5,335M359.4,387L389.5,335" stroke="#1e1e1e" stroke-width="0.6" fill="none"/>
<line x1="334" y1="283" x2="359.4" y2="283" stroke="#b4b4b4" stroke-width="1.4" />
<line x1="334" y1="315" x2="359.4" y2="315" stroke="#b4b4b4" stroke-width="1.4" />
<line x1="334" y1="352.8" x2="359.4" y2="352.8" stroke="#b4b4b4" stroke-width="1.4" />
<line x1="334" y1="387" x2="359.4" y2="387" stroke="#b4b4b4" stroke-width="1.4" />
<g fill="#2a2a2a"><rect x="306.1" y="314.9" width="1.4" height="1.4"/><rect x="306.1" y="318" width="1.4" height="1.4"/><rect x="306.1" y="321.1" width="1.4" height="1.4"/><rect x="306.1" y="350.1" width="1.4" height="1.4"/><rect x="306.1" y="353.2" width="1.4" height="1.4"/><rect x="306.1" y="356.3" width="1.4" height="1.4"/><rect x="332.7" y="296" width="1.4" height="1.4"/><rect x="332.7" y="299.1" width="1.4" height="1.4"/><rect x="332.7" y="302.2" width="1.4" height="1.4"/><rect x="332.7" y="331.7" width="1.4" height="1.4"/><rect x="332.7" y="334.8" width="1.4" height="1.4"/><rect x="332.7" y="337.9" width="1.4" height="1.4"/><rect x="332.7" y="368.4" width="1.4" height="1.4"/><rect x="332.7" y="371.5" width="1.4" height="1.4"/><rect x="332.7" y="374.6" width="1.4" height="1.4"/><rect x="358.3" y="296" width="1.4" height="1.4"/><rect x="358.3" y="299.1" width="1.4" height="1.4"/><rect x="358.3" y="302.2" width="1.4" height="1.4"/><rect x="358.3" y="331.7" width="1.4" height="1.4"/><rect x="358.3" y="334.8" width="1.4" height="1.4"/><rect x="358.3" y="337.9" width="1.4" height="1.4"/><rect x="358.3" y="368.4" width="1.4" height="1.4"/><rect x="358.3" y="371.5" width="1.4" height="1.4"/><rect x="358.3" y="374.6" width="1.4" height="1.4"/></g>
<circle cx="307.3" cy="307" r="3.3" fill="#dde9f5" stroke="#505a64" stroke-width="0.7"/>
<circle cx="307.3" cy="335" r="3.3" fill="#dde9f5" stroke="#505a64" stroke-width="0.7"/>
<circle cx="307.3" cy="362.4" r="3.3" fill="#dde9f5" stroke="#505a64" stroke-width="0.7"/>
<circle cx="334" cy="283" r="3.4" fill="#86b6e4" stroke="#3a4a5a" stroke-width="0.7"/>
<circle cx="334" cy="315" r="3.4" fill="#86b6e4" stroke="#3a4a5a" stroke-width="0.7"/>
<circle cx="334" cy="352.8" r="3.4" fill="#86b6e4" stroke="#3a4a5a" stroke-width="0.7"/>
<circle cx="334" cy="387" r="3.4" fill="#86b6e4" stroke="#3a4a5a" stroke-width="0.7"/>
<circle cx="359.4" cy="283" r="3.4" fill="#4a84c6" stroke="#2a3a4a" stroke-width="0.7"/>
<circle cx="359.4" cy="315" r="3.4" fill="#4a84c6" stroke="#2a3a4a" stroke-width="0.7"/>
<circle cx="359.4" cy="352.8" r="3.4" fill="#4a84c6" stroke="#2a3a4a" stroke-width="0.7"/>
<circle cx="359.4" cy="387" r="3.4" fill="#4a84c6" stroke="#2a3a4a" stroke-width="0.7"/>
<circle cx="389.5" cy="335" r="3.4" fill="#27507e" stroke="#1a2a3a" stroke-width="0.7"/>
<defs><linearGradient id="gcb" x1="0" y1="0" x2="1" y2="0"><stop offset="0" stop-color="#fafafa"/><stop offset="0.5" stop-color="#b6cfe6"/><stop offset="1" stop-color="#3d78b6"/></linearGradient></defs>
<rect x="554.3" y="260.9" width="117.2" height="2.5" fill="url(#gcb)" stroke="#aaa" stroke-width="0.5"/>
<text x="556.6" y="257.2" font-size="9.4" text-anchor="middle" fill="#1c1c1c" >0</text>
<text x="616.6" y="257.2" font-size="9.4" text-anchor="middle" fill="#1c1c1c" >Accuracy (%)</text>
<text x="672.6" y="257.2" font-size="9.4" text-anchor="end" fill="#1c1c1c" >100</text>
<text transform="translate(528.3,263.4) scale(0.9,1)" font-size="16.8" text-anchor="start" fill="#1c1c1c" >g</text>
<rect x="554.3" y="266.8" width="14.65" height="13.94" fill="#4a84c0"/>
<rect x="568.95" y="280.74" width="14.65" height="13.94" fill="#4a84c0"/>
<rect x="583.6" y="294.68" width="14.65" height="13.94" fill="#4a84c0"/>
<rect x="598.25" y="308.62" width="14.65" height="13.94" fill="#4a84c0"/>
<rect x="612.9" y="322.56" width="14.65" height="13.94" fill="#4a84c0"/>
<rect x="627.55" y="336.5" width="14.65" height="13.94" fill="#4a84c0"/>
<rect x="642.2" y="350.44" width="14.65" height="13.94" fill="#4a84c0"/>
<rect x="656.85" y="364.38" width="14.65" height="13.94" fill="#4a84c0"/>
<path d="M554.3,266.8V378.32M554.3,266.8H671.5M568.95,266.8V378.32M554.3,280.74H671.5M583.6,266.8V378.32M554.3,294.68H671.5M598.25,266.8V378.32M554.3,308.62H671.5M612.9,266.8V378.32M554.3,322.56H671.5M627.55,266.8V378.32M554.3,336.5H671.5M642.2,266.8V378.32M554.3,350.44H671.5M656.85,266.8V378.32M554.3,364.38H671.5M671.5,266.8V378.32M554.3,378.32H671.5" stroke="#c6c6c6" stroke-width="0.8" fill="none"/>
<text transform="translate(567.25,277.74) scale(0.8,1)" font-size="8.0" text-anchor="end" fill="#fff" >100</text>
<text x="561.62" y="385.8" font-size="7.6" text-anchor="middle" fill="#1c1c1c" >8</text>
<text transform="translate(551.5,273.77) rotate(-90)" font-size="7.6" text-anchor="middle" fill="#1c1c1c">8</text>
<text transform="translate(581.9,291.68) scale(0.8,1)" font-size="8.0" text-anchor="end" fill="#fff" >100</text>
<text x="576.27" y="385.8" font-size="7.6" text-anchor="middle" fill="#1c1c1c" >7</text>
<text transform="translate(551.5,287.71) rotate(-90)" font-size="7.6" text-anchor="middle" fill="#1c1c1c">7</text>
<text transform="translate(596.55,305.62) scale(0.8,1)" font-size="8.0" text-anchor="end" fill="#fff" >100</text>
<text x="590.92" y="385.8" font-size="7.6" text-anchor="middle" fill="#1c1c1c" >6</text>
<text transform="translate(551.5,301.65) rotate(-90)" font-size="7.6" text-anchor="middle" fill="#1c1c1c">6</text>
<text transform="translate(611.2,319.56) scale(0.8,1)" font-size="8.0" text-anchor="end" fill="#fff" >100</text>
<text x="605.58" y="385.8" font-size="7.6" text-anchor="middle" fill="#1c1c1c" >5</text>
<text transform="translate(551.5,315.59) rotate(-90)" font-size="7.6" text-anchor="middle" fill="#1c1c1c">5</text>
<text transform="translate(625.85,333.5) scale(0.8,1)" font-size="8.0" text-anchor="end" fill="#fff" >100</text>
<text x="620.23" y="385.8" font-size="7.6" text-anchor="middle" fill="#1c1c1c" >4</text>
<text transform="translate(551.5,329.53) rotate(-90)" font-size="7.6" text-anchor="middle" fill="#1c1c1c">4</text>
<text transform="translate(640.5,347.44) scale(0.8,1)" font-size="8.0" text-anchor="end" fill="#fff" >100</text>
<text x="634.88" y="385.8" font-size="7.6" text-anchor="middle" fill="#1c1c1c" >3</text>
<text transform="translate(551.5,343.47) rotate(-90)" font-size="7.6" text-anchor="middle" fill="#1c1c1c">3</text>
<text transform="translate(655.15,361.38) scale(0.8,1)" font-size="8.0" text-anchor="end" fill="#fff" >100</text>
<text x="649.52" y="385.8" font-size="7.6" text-anchor="middle" fill="#1c1c1c" >2</text>
<text transform="translate(551.5,357.41) rotate(-90)" font-size="7.6" text-anchor="middle" fill="#1c1c1c">2</text>
<text transform="translate(669.8,375.32) scale(0.8,1)" font-size="8.0" text-anchor="end" fill="#fff" >100</text>
<text x="664.17" y="385.8" font-size="7.6" text-anchor="middle" fill="#1c1c1c" >1</text>
<text transform="translate(551.5,371.35) rotate(-90)" font-size="7.6" text-anchor="middle" fill="#1c1c1c">1</text>
<text x="619.4" y="398.3" font-size="10.5" text-anchor="middle" fill="#1c1c1c" >True class</text>
<text transform="translate(537.6,319) rotate(-90)" font-size="10.5" text-anchor="middle" fill="#1c1c1c">Predicted class</text>
</svg></body></html>
